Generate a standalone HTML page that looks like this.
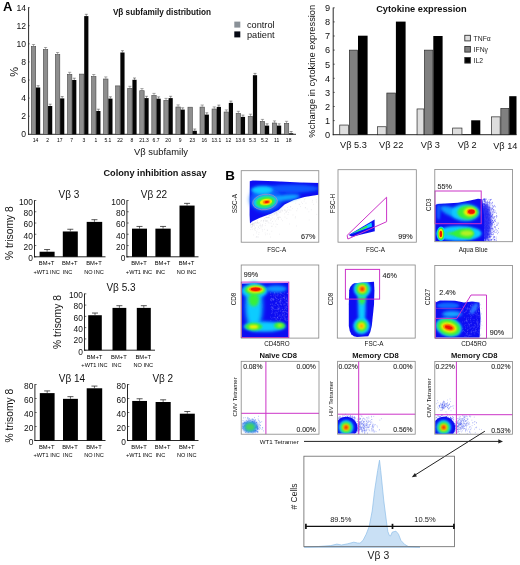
<!DOCTYPE html>
<html><head><meta charset="utf-8"><title>Figure</title>
<style>html,body{margin:0;padding:0;background:#fff;}svg{display:block;filter:blur(0.3px);}text{font-family:"Liberation Sans",sans-serif;}</style>
</head><body>
<svg width="520" height="565" viewBox="0 0 520 565">
<rect x="0" y="0" width="520" height="565" fill="#fff"/>
<defs>
<filter id="b05" x="-20%" y="-20%" width="140%" height="140%"><feGaussianBlur stdDeviation="0.5"/></filter>
<filter id="b1" x="-30%" y="-30%" width="160%" height="160%"><feGaussianBlur stdDeviation="1"/></filter>
<filter id="b15" x="-30%" y="-30%" width="160%" height="160%"><feGaussianBlur stdDeviation="1.5"/></filter>
<filter id="b2" x="-40%" y="-40%" width="180%" height="180%"><feGaussianBlur stdDeviation="2"/></filter>
<filter id="b3" x="-50%" y="-50%" width="200%" height="200%"><feGaussianBlur stdDeviation="3"/></filter>
<filter id="txt" x="-5%" y="-5%" width="110%" height="110%"><feGaussianBlur stdDeviation="0.3"/></filter>
</defs>
<g id="vb-dist">
<text x="2.9" y="10.6" font-size="13" text-anchor="start" font-weight="bold" fill="#000" >A</text>
<line x1="28.6" y1="7.2" x2="28.6" y2="134.8" stroke="#111" stroke-width="0.9" />
<line x1="28.200000000000003" y1="134.3" x2="296" y2="134.3" stroke="#111" stroke-width="0.9" />
<text x="26.0" y="137.20000000000002" font-size="8.6" text-anchor="end" font-weight="normal" fill="#111" >0</text>
<text x="26.0" y="119.10000000000002" font-size="8.6" text-anchor="end" font-weight="normal" fill="#111" >2</text>
<line x1="28.6" y1="116.20000000000002" x2="29.8" y2="116.20000000000002" stroke="#111" stroke-width="0.5" />
<text x="26.0" y="101.00000000000001" font-size="8.6" text-anchor="end" font-weight="normal" fill="#111" >4</text>
<line x1="28.6" y1="98.10000000000001" x2="29.8" y2="98.10000000000001" stroke="#111" stroke-width="0.5" />
<text x="26.0" y="82.9" font-size="8.6" text-anchor="end" font-weight="normal" fill="#111" >6</text>
<line x1="28.6" y1="80.0" x2="29.8" y2="80.0" stroke="#111" stroke-width="0.5" />
<text x="26.0" y="64.80000000000001" font-size="8.6" text-anchor="end" font-weight="normal" fill="#111" >8</text>
<line x1="28.6" y1="61.900000000000006" x2="29.8" y2="61.900000000000006" stroke="#111" stroke-width="0.5" />
<text x="26.0" y="46.70000000000001" font-size="8.6" text-anchor="end" font-weight="normal" fill="#111" >10</text>
<line x1="28.6" y1="43.80000000000001" x2="29.8" y2="43.80000000000001" stroke="#111" stroke-width="0.5" />
<text x="26.0" y="28.6" font-size="8.6" text-anchor="end" font-weight="normal" fill="#111" >12</text>
<line x1="28.6" y1="25.700000000000003" x2="29.8" y2="25.700000000000003" stroke="#111" stroke-width="0.5" />
<text x="26.0" y="10.499999999999995" font-size="8.6" text-anchor="end" font-weight="normal" fill="#111" >14</text>
<line x1="28.6" y1="7.599999999999994" x2="29.8" y2="7.599999999999994" stroke="#111" stroke-width="0.5" />
<text x="18" y="71.9" font-size="11" text-anchor="middle" font-weight="normal" fill="#111" transform="rotate(-90 18 71.9)" >%</text>
<rect x="31.30" y="46.60" width="4.40" height="87.70" fill="#8e8e8e" stroke="#484848" stroke-width="0.6" />
<rect x="36.00" y="87.50" width="4.20" height="46.80" fill="#050505" stroke="none" stroke-width="1" />
<line x1="33.5" y1="46.3" x2="33.5" y2="44.5" stroke="#555" stroke-width="0.5" />
<line x1="31.9" y1="44.5" x2="35.1" y2="44.5" stroke="#555" stroke-width="0.5" />
<line x1="38.1" y1="87.5" x2="38.1" y2="85.7" stroke="#333" stroke-width="0.5" />
<line x1="36.6" y1="85.7" x2="39.6" y2="85.7" stroke="#333" stroke-width="0.5" />
<text x="35.6" y="141.8" font-size="5.0" text-anchor="middle" font-weight="normal" fill="#000" >14</text>
<rect x="43.35" y="49.60" width="4.40" height="84.70" fill="#8e8e8e" stroke="#484848" stroke-width="0.6" />
<rect x="48.05" y="106.00" width="4.20" height="28.30" fill="#050505" stroke="none" stroke-width="1" />
<line x1="45.55" y1="49.3" x2="45.55" y2="47.5" stroke="#555" stroke-width="0.5" />
<line x1="43.949999999999996" y1="47.5" x2="47.15" y2="47.5" stroke="#555" stroke-width="0.5" />
<line x1="50.15" y1="106" x2="50.15" y2="104.2" stroke="#333" stroke-width="0.5" />
<line x1="48.65" y1="104.2" x2="51.65" y2="104.2" stroke="#333" stroke-width="0.5" />
<text x="47.65" y="141.8" font-size="5.0" text-anchor="middle" font-weight="normal" fill="#000" >2</text>
<rect x="55.40" y="54.60" width="4.40" height="79.70" fill="#8e8e8e" stroke="#484848" stroke-width="0.6" />
<rect x="60.10" y="98.40" width="4.20" height="35.90" fill="#050505" stroke="none" stroke-width="1" />
<line x1="57.6" y1="54.3" x2="57.6" y2="52.5" stroke="#555" stroke-width="0.5" />
<line x1="56.0" y1="52.5" x2="59.2" y2="52.5" stroke="#555" stroke-width="0.5" />
<line x1="62.2" y1="98.4" x2="62.2" y2="96.60000000000001" stroke="#333" stroke-width="0.5" />
<line x1="60.7" y1="96.60000000000001" x2="63.699999999999996" y2="96.60000000000001" stroke="#333" stroke-width="0.5" />
<text x="59.7" y="141.8" font-size="5.0" text-anchor="middle" font-weight="normal" fill="#000" >17</text>
<rect x="67.45" y="74.40" width="4.40" height="59.90" fill="#8e8e8e" stroke="#484848" stroke-width="0.6" />
<rect x="72.15" y="80.00" width="4.20" height="54.30" fill="#050505" stroke="none" stroke-width="1" />
<line x1="69.65" y1="74.1" x2="69.65" y2="72.3" stroke="#555" stroke-width="0.5" />
<line x1="68.05000000000001" y1="72.3" x2="71.25" y2="72.3" stroke="#555" stroke-width="0.5" />
<line x1="74.25" y1="80" x2="74.25" y2="78.2" stroke="#333" stroke-width="0.5" />
<line x1="72.75" y1="78.2" x2="75.75000000000001" y2="78.2" stroke="#333" stroke-width="0.5" />
<text x="71.75" y="141.8" font-size="5.0" text-anchor="middle" font-weight="normal" fill="#000" >7</text>
<rect x="79.50" y="74.10" width="4.40" height="60.20" fill="#8e8e8e" stroke="#484848" stroke-width="0.6" />
<rect x="84.20" y="16.10" width="4.20" height="118.20" fill="#050505" stroke="none" stroke-width="1" />
<line x1="86.3" y1="16.1" x2="86.3" y2="14.3" stroke="#333" stroke-width="0.5" />
<line x1="84.8" y1="14.3" x2="87.80000000000001" y2="14.3" stroke="#333" stroke-width="0.5" />
<text x="83.8" y="141.8" font-size="5.0" text-anchor="middle" font-weight="normal" fill="#000" >3</text>
<rect x="91.55" y="76.60" width="4.40" height="57.70" fill="#8e8e8e" stroke="#484848" stroke-width="0.6" />
<rect x="96.25" y="111.00" width="4.20" height="23.30" fill="#050505" stroke="none" stroke-width="1" />
<line x1="93.75" y1="76.3" x2="93.75" y2="74.5" stroke="#555" stroke-width="0.5" />
<line x1="92.15" y1="74.5" x2="95.35" y2="74.5" stroke="#555" stroke-width="0.5" />
<line x1="98.35" y1="111" x2="98.35" y2="109.2" stroke="#333" stroke-width="0.5" />
<line x1="96.85" y1="109.2" x2="99.85000000000001" y2="109.2" stroke="#333" stroke-width="0.5" />
<text x="95.85" y="141.8" font-size="5.0" text-anchor="middle" font-weight="normal" fill="#000" >1</text>
<rect x="103.60" y="79.00" width="4.40" height="55.30" fill="#8e8e8e" stroke="#484848" stroke-width="0.6" />
<rect x="108.30" y="98.60" width="4.20" height="35.70" fill="#050505" stroke="none" stroke-width="1" />
<line x1="105.80000000000001" y1="78.7" x2="105.80000000000001" y2="76.9" stroke="#555" stroke-width="0.5" />
<line x1="104.20000000000002" y1="76.9" x2="107.4" y2="76.9" stroke="#555" stroke-width="0.5" />
<line x1="110.4" y1="98.6" x2="110.4" y2="96.8" stroke="#333" stroke-width="0.5" />
<line x1="108.9" y1="96.8" x2="111.90000000000002" y2="96.8" stroke="#333" stroke-width="0.5" />
<text x="107.9" y="141.8" font-size="5.0" text-anchor="middle" font-weight="normal" fill="#000" >5.1</text>
<rect x="115.65" y="85.90" width="4.40" height="48.40" fill="#8e8e8e" stroke="#484848" stroke-width="0.6" />
<rect x="120.35" y="52.50" width="4.20" height="81.80" fill="#050505" stroke="none" stroke-width="1" />
<line x1="122.45" y1="52.5" x2="122.45" y2="50.7" stroke="#333" stroke-width="0.5" />
<line x1="120.95" y1="50.7" x2="123.95000000000002" y2="50.7" stroke="#333" stroke-width="0.5" />
<text x="119.95" y="141.8" font-size="5.0" text-anchor="middle" font-weight="normal" fill="#000" >22</text>
<rect x="127.70" y="88.40" width="4.40" height="45.90" fill="#8e8e8e" stroke="#484848" stroke-width="0.6" />
<rect x="132.40" y="79.80" width="4.20" height="54.50" fill="#050505" stroke="none" stroke-width="1" />
<line x1="129.9" y1="88.1" x2="129.9" y2="86.3" stroke="#555" stroke-width="0.5" />
<line x1="128.3" y1="86.3" x2="131.5" y2="86.3" stroke="#555" stroke-width="0.5" />
<line x1="134.5" y1="79.8" x2="134.5" y2="78.0" stroke="#333" stroke-width="0.5" />
<line x1="133.0" y1="78.0" x2="136.0" y2="78.0" stroke="#333" stroke-width="0.5" />
<text x="132.0" y="141.8" font-size="5.0" text-anchor="middle" font-weight="normal" fill="#000" >8</text>
<rect x="139.75" y="90.70" width="4.40" height="43.60" fill="#8e8e8e" stroke="#484848" stroke-width="0.6" />
<rect x="144.45" y="98.10" width="4.20" height="36.20" fill="#050505" stroke="none" stroke-width="1" />
<line x1="141.95" y1="90.4" x2="141.95" y2="88.60000000000001" stroke="#555" stroke-width="0.5" />
<line x1="140.35" y1="88.60000000000001" x2="143.54999999999998" y2="88.60000000000001" stroke="#555" stroke-width="0.5" />
<line x1="146.54999999999998" y1="98.1" x2="146.54999999999998" y2="96.3" stroke="#333" stroke-width="0.5" />
<line x1="145.04999999999998" y1="96.3" x2="148.04999999999998" y2="96.3" stroke="#333" stroke-width="0.5" />
<text x="144.04999999999998" y="141.8" font-size="5.0" text-anchor="middle" font-weight="normal" fill="#000" >21.3</text>
<rect x="151.80" y="95.50" width="4.40" height="38.80" fill="#8e8e8e" stroke="#484848" stroke-width="0.6" />
<rect x="156.50" y="98.70" width="4.20" height="35.60" fill="#050505" stroke="none" stroke-width="1" />
<line x1="154.0" y1="95.2" x2="154.0" y2="93.4" stroke="#555" stroke-width="0.5" />
<line x1="152.4" y1="93.4" x2="155.6" y2="93.4" stroke="#555" stroke-width="0.5" />
<line x1="158.6" y1="98.7" x2="158.6" y2="96.9" stroke="#333" stroke-width="0.5" />
<line x1="157.1" y1="96.9" x2="160.1" y2="96.9" stroke="#333" stroke-width="0.5" />
<text x="156.1" y="141.8" font-size="5.0" text-anchor="middle" font-weight="normal" fill="#000" >6.7</text>
<rect x="163.85" y="100.50" width="4.40" height="33.80" fill="#8e8e8e" stroke="#484848" stroke-width="0.6" />
<rect x="168.55" y="98.10" width="4.20" height="36.20" fill="#050505" stroke="none" stroke-width="1" />
<line x1="166.05" y1="100.2" x2="166.05" y2="98.4" stroke="#555" stroke-width="0.5" />
<line x1="164.45000000000002" y1="98.4" x2="167.65" y2="98.4" stroke="#555" stroke-width="0.5" />
<line x1="170.65" y1="98.1" x2="170.65" y2="96.3" stroke="#333" stroke-width="0.5" />
<line x1="169.15" y1="96.3" x2="172.15" y2="96.3" stroke="#333" stroke-width="0.5" />
<text x="168.15" y="141.8" font-size="5.0" text-anchor="middle" font-weight="normal" fill="#000" >20</text>
<rect x="175.90" y="107.00" width="4.40" height="27.30" fill="#8e8e8e" stroke="#484848" stroke-width="0.6" />
<rect x="180.60" y="109.60" width="4.20" height="24.70" fill="#050505" stroke="none" stroke-width="1" />
<line x1="178.10000000000002" y1="106.7" x2="178.10000000000002" y2="104.9" stroke="#555" stroke-width="0.5" />
<line x1="176.50000000000003" y1="104.9" x2="179.70000000000002" y2="104.9" stroke="#555" stroke-width="0.5" />
<line x1="182.70000000000002" y1="109.6" x2="182.70000000000002" y2="107.8" stroke="#333" stroke-width="0.5" />
<line x1="181.20000000000002" y1="107.8" x2="184.20000000000002" y2="107.8" stroke="#333" stroke-width="0.5" />
<text x="180.20000000000002" y="141.8" font-size="5.0" text-anchor="middle" font-weight="normal" fill="#000" >9</text>
<rect x="187.95" y="107.20" width="4.40" height="27.10" fill="#8e8e8e" stroke="#484848" stroke-width="0.6" />
<rect x="192.65" y="130.80" width="4.20" height="3.50" fill="#050505" stroke="none" stroke-width="1" />
<line x1="194.75" y1="130.8" x2="194.75" y2="129.0" stroke="#333" stroke-width="0.5" />
<line x1="193.25" y1="129.0" x2="196.25" y2="129.0" stroke="#333" stroke-width="0.5" />
<text x="192.25" y="141.8" font-size="5.0" text-anchor="middle" font-weight="normal" fill="#000" >23</text>
<rect x="200.00" y="107.10" width="4.40" height="27.20" fill="#8e8e8e" stroke="#484848" stroke-width="0.6" />
<rect x="204.70" y="114.60" width="4.20" height="19.70" fill="#050505" stroke="none" stroke-width="1" />
<line x1="202.20000000000002" y1="106.8" x2="202.20000000000002" y2="105.0" stroke="#555" stroke-width="0.5" />
<line x1="200.60000000000002" y1="105.0" x2="203.8" y2="105.0" stroke="#555" stroke-width="0.5" />
<line x1="206.8" y1="114.6" x2="206.8" y2="112.8" stroke="#333" stroke-width="0.5" />
<line x1="205.3" y1="112.8" x2="208.3" y2="112.8" stroke="#333" stroke-width="0.5" />
<text x="204.3" y="141.8" font-size="5.0" text-anchor="middle" font-weight="normal" fill="#000" >16</text>
<rect x="212.05" y="109.00" width="4.40" height="25.30" fill="#8e8e8e" stroke="#484848" stroke-width="0.6" />
<rect x="216.75" y="106.90" width="4.20" height="27.40" fill="#050505" stroke="none" stroke-width="1" />
<line x1="214.25" y1="108.7" x2="214.25" y2="106.9" stroke="#555" stroke-width="0.5" />
<line x1="212.65" y1="106.9" x2="215.85" y2="106.9" stroke="#555" stroke-width="0.5" />
<line x1="218.85" y1="106.9" x2="218.85" y2="105.10000000000001" stroke="#333" stroke-width="0.5" />
<line x1="217.35" y1="105.10000000000001" x2="220.35" y2="105.10000000000001" stroke="#333" stroke-width="0.5" />
<text x="216.35" y="141.8" font-size="5.0" text-anchor="middle" font-weight="normal" fill="#000" >13.1</text>
<rect x="224.10" y="112.00" width="4.40" height="22.30" fill="#8e8e8e" stroke="#484848" stroke-width="0.6" />
<rect x="228.80" y="102.90" width="4.20" height="31.40" fill="#050505" stroke="none" stroke-width="1" />
<line x1="226.3" y1="111.7" x2="226.3" y2="109.9" stroke="#555" stroke-width="0.5" />
<line x1="224.70000000000002" y1="109.9" x2="227.9" y2="109.9" stroke="#555" stroke-width="0.5" />
<line x1="230.9" y1="102.9" x2="230.9" y2="101.10000000000001" stroke="#333" stroke-width="0.5" />
<line x1="229.4" y1="101.10000000000001" x2="232.4" y2="101.10000000000001" stroke="#333" stroke-width="0.5" />
<text x="228.4" y="141.8" font-size="5.0" text-anchor="middle" font-weight="normal" fill="#000" >12</text>
<rect x="236.15" y="113.40" width="4.40" height="20.90" fill="#8e8e8e" stroke="#484848" stroke-width="0.6" />
<rect x="240.85" y="116.90" width="4.20" height="17.40" fill="#050505" stroke="none" stroke-width="1" />
<line x1="238.35000000000002" y1="113.1" x2="238.35000000000002" y2="111.3" stroke="#555" stroke-width="0.5" />
<line x1="236.75000000000003" y1="111.3" x2="239.95000000000002" y2="111.3" stroke="#555" stroke-width="0.5" />
<line x1="242.95000000000002" y1="116.9" x2="242.95000000000002" y2="115.10000000000001" stroke="#333" stroke-width="0.5" />
<line x1="241.45000000000002" y1="115.10000000000001" x2="244.45000000000002" y2="115.10000000000001" stroke="#333" stroke-width="0.5" />
<text x="240.45000000000002" y="141.8" font-size="5.0" text-anchor="middle" font-weight="normal" fill="#000" >13.6</text>
<rect x="248.20" y="116.30" width="4.40" height="18.00" fill="#8e8e8e" stroke="#484848" stroke-width="0.6" />
<rect x="252.90" y="75.20" width="4.20" height="59.10" fill="#050505" stroke="none" stroke-width="1" />
<line x1="250.4" y1="116" x2="250.4" y2="114.2" stroke="#555" stroke-width="0.5" />
<line x1="248.8" y1="114.2" x2="252.0" y2="114.2" stroke="#555" stroke-width="0.5" />
<line x1="255.0" y1="75.2" x2="255.0" y2="73.4" stroke="#333" stroke-width="0.5" />
<line x1="253.5" y1="73.4" x2="256.5" y2="73.4" stroke="#333" stroke-width="0.5" />
<text x="252.5" y="141.8" font-size="5.0" text-anchor="middle" font-weight="normal" fill="#000" >5.3</text>
<rect x="260.25" y="121.50" width="4.40" height="12.80" fill="#8e8e8e" stroke="#484848" stroke-width="0.6" />
<rect x="264.95" y="125.60" width="4.20" height="8.70" fill="#050505" stroke="none" stroke-width="1" />
<line x1="262.45000000000005" y1="121.2" x2="262.45000000000005" y2="119.4" stroke="#555" stroke-width="0.5" />
<line x1="260.85" y1="119.4" x2="264.05000000000007" y2="119.4" stroke="#555" stroke-width="0.5" />
<line x1="267.05000000000007" y1="125.6" x2="267.05000000000007" y2="123.8" stroke="#333" stroke-width="0.5" />
<line x1="265.55000000000007" y1="123.8" x2="268.55" y2="123.8" stroke="#333" stroke-width="0.5" />
<text x="264.55000000000007" y="141.8" font-size="5.0" text-anchor="middle" font-weight="normal" fill="#000" >5.2</text>
<rect x="272.30" y="123.00" width="4.40" height="11.30" fill="#8e8e8e" stroke="#484848" stroke-width="0.6" />
<rect x="277.00" y="125.60" width="4.20" height="8.70" fill="#050505" stroke="none" stroke-width="1" />
<line x1="274.5" y1="122.7" x2="274.5" y2="120.9" stroke="#555" stroke-width="0.5" />
<line x1="272.9" y1="120.9" x2="276.1" y2="120.9" stroke="#555" stroke-width="0.5" />
<line x1="279.1" y1="125.6" x2="279.1" y2="123.8" stroke="#333" stroke-width="0.5" />
<line x1="277.6" y1="123.8" x2="280.59999999999997" y2="123.8" stroke="#333" stroke-width="0.5" />
<text x="276.6" y="141.8" font-size="5.0" text-anchor="middle" font-weight="normal" fill="#000" >11</text>
<rect x="284.35" y="123.40" width="4.40" height="10.90" fill="#8e8e8e" stroke="#484848" stroke-width="0.6" />
<rect x="289.05" y="133.30" width="4.20" height="1.00" fill="#050505" stroke="none" stroke-width="1" />
<line x1="286.55" y1="123.1" x2="286.55" y2="121.3" stroke="#555" stroke-width="0.5" />
<line x1="284.95" y1="121.3" x2="288.15000000000003" y2="121.3" stroke="#555" stroke-width="0.5" />
<line x1="291.15000000000003" y1="133.3" x2="291.15000000000003" y2="131.5" stroke="#333" stroke-width="0.5" />
<line x1="289.65000000000003" y1="131.5" x2="292.65" y2="131.5" stroke="#333" stroke-width="0.5" />
<text x="288.65000000000003" y="141.8" font-size="5.0" text-anchor="middle" font-weight="normal" fill="#000" >18</text>
<text x="162" y="15.0" font-size="8.2" text-anchor="middle" font-weight="bold" fill="#111" >Vβ subfamily distribution</text>
<text x="161" y="155.2" font-size="9.4" text-anchor="middle" font-weight="normal" fill="#111" >Vβ subfamily</text>
<rect x="234.30" y="21.60" width="6.00" height="6.00" fill="#8a9198" stroke="none" stroke-width="1" />
<rect x="234.30" y="31.40" width="6.00" height="6.00" fill="#060a14" stroke="none" stroke-width="1" />
<text x="247" y="28.2" font-size="9.2" text-anchor="start" font-weight="normal" fill="#111" >control</text>
<text x="247" y="37.6" font-size="9.2" text-anchor="start" font-weight="normal" fill="#111" >patient</text>
</g>
<g id="cyto">
<line x1="333.2" y1="7.6" x2="333.2" y2="135.2" stroke="#111" stroke-width="0.9" />
<line x1="332.8" y1="134.7" x2="516.6" y2="134.7" stroke="#111" stroke-width="0.9" />
<text x="330.2" y="138.0" font-size="9.2" text-anchor="end" font-weight="normal" fill="#111" >0</text>
<text x="330.2" y="123.89999999999999" font-size="9.2" text-anchor="end" font-weight="normal" fill="#111" >1</text>
<line x1="333.2" y1="120.6" x2="334.8" y2="120.6" stroke="#111" stroke-width="0.6" />
<text x="330.2" y="109.79999999999998" font-size="9.2" text-anchor="end" font-weight="normal" fill="#111" >2</text>
<line x1="333.2" y1="106.49999999999999" x2="334.8" y2="106.49999999999999" stroke="#111" stroke-width="0.6" />
<text x="330.2" y="95.69999999999999" font-size="9.2" text-anchor="end" font-weight="normal" fill="#111" >3</text>
<line x1="333.2" y1="92.39999999999999" x2="334.8" y2="92.39999999999999" stroke="#111" stroke-width="0.6" />
<text x="330.2" y="81.59999999999998" font-size="9.2" text-anchor="end" font-weight="normal" fill="#111" >4</text>
<line x1="333.2" y1="78.29999999999998" x2="334.8" y2="78.29999999999998" stroke="#111" stroke-width="0.6" />
<text x="330.2" y="67.49999999999999" font-size="9.2" text-anchor="end" font-weight="normal" fill="#111" >5</text>
<line x1="333.2" y1="64.19999999999999" x2="334.8" y2="64.19999999999999" stroke="#111" stroke-width="0.6" />
<text x="330.2" y="53.39999999999999" font-size="9.2" text-anchor="end" font-weight="normal" fill="#111" >6</text>
<line x1="333.2" y1="50.099999999999994" x2="334.8" y2="50.099999999999994" stroke="#111" stroke-width="0.6" />
<text x="330.2" y="39.29999999999998" font-size="9.2" text-anchor="end" font-weight="normal" fill="#111" >7</text>
<line x1="333.2" y1="35.999999999999986" x2="334.8" y2="35.999999999999986" stroke="#111" stroke-width="0.6" />
<text x="330.2" y="25.199999999999992" font-size="9.2" text-anchor="end" font-weight="normal" fill="#111" >8</text>
<line x1="333.2" y1="21.89999999999999" x2="334.8" y2="21.89999999999999" stroke="#111" stroke-width="0.6" />
<text x="330.2" y="11.099999999999998" font-size="9.2" text-anchor="end" font-weight="normal" fill="#111" >9</text>
<line x1="333.2" y1="7.799999999999997" x2="334.8" y2="7.799999999999997" stroke="#111" stroke-width="0.6" />
<text x="315.3" y="71.2" font-size="9.3" text-anchor="middle" font-weight="normal" fill="#111" transform="rotate(-90 315.3 71.2)" >%change in cytokine expression</text>
<text x="421.4" y="12.2" font-size="9.25" text-anchor="middle" font-weight="bold" fill="#111" >Cytokine expression</text>
<rect x="339.75" y="125.05" width="8.90" height="9.65" fill="#dedede" stroke="#2a2a2a" stroke-width="0.7" />
<rect x="349.35" y="50.15" width="8.30" height="84.55" fill="#808080" stroke="#2a2a2a" stroke-width="0.7" />
<rect x="358.00" y="35.70" width="9.60" height="99.00" fill="#000" stroke="none" stroke-width="1" />
<text x="353.4" y="148.2" font-size="9.2" text-anchor="middle" font-weight="normal" fill="#111" >Vβ 5.3</text>
<rect x="377.45" y="126.75" width="8.70" height="7.95" fill="#dedede" stroke="#2a2a2a" stroke-width="0.7" />
<rect x="386.85" y="93.05" width="8.70" height="41.65" fill="#808080" stroke="#2a2a2a" stroke-width="0.7" />
<rect x="395.90" y="21.60" width="9.70" height="113.10" fill="#000" stroke="none" stroke-width="1" />
<text x="391.2" y="148.2" font-size="9.2" text-anchor="middle" font-weight="normal" fill="#111" >Vβ 22</text>
<rect x="417.05" y="108.95" width="6.80" height="25.75" fill="#dedede" stroke="#2a2a2a" stroke-width="0.7" />
<rect x="424.55" y="50.15" width="8.40" height="84.55" fill="#808080" stroke="#2a2a2a" stroke-width="0.7" />
<rect x="433.30" y="36.00" width="9.30" height="98.70" fill="#000" stroke="none" stroke-width="1" />
<text x="430.4" y="148.2" font-size="9.2" text-anchor="middle" font-weight="normal" fill="#111" >Vβ 3</text>
<rect x="452.65" y="128.05" width="9.30" height="6.65" fill="#dedede" stroke="#2a2a2a" stroke-width="0.7" />
<rect x="462.65" y="134.35" width="8.20" height="0.35" fill="#808080" stroke="#2a2a2a" stroke-width="0.7" />
<rect x="471.20" y="120.30" width="9.10" height="14.40" fill="#000" stroke="none" stroke-width="1" />
<text x="467.2" y="147.9" font-size="9.2" text-anchor="middle" font-weight="normal" fill="#111" >Vβ 2</text>
<rect x="491.55" y="116.85" width="8.60" height="17.85" fill="#dedede" stroke="#2a2a2a" stroke-width="0.7" />
<rect x="500.85" y="108.55" width="8.00" height="26.15" fill="#808080" stroke="#2a2a2a" stroke-width="0.7" />
<rect x="509.20" y="96.20" width="7.30" height="38.50" fill="#000" stroke="none" stroke-width="1" />
<text x="505.3" y="149.1" font-size="9.2" text-anchor="middle" font-weight="normal" fill="#111" >Vβ 14</text>
<rect x="464.80" y="35.30" width="5.60" height="5.60" fill="#dedede" stroke="#333" stroke-width="0.9" />
<text x="473.6" y="40.5" font-size="6.8" text-anchor="start" font-weight="normal" fill="#222" >TNFα</text>
<rect x="464.80" y="46.50" width="5.60" height="5.60" fill="#808080" stroke="#333" stroke-width="0.9" />
<text x="473.6" y="51.699999999999996" font-size="6.8" text-anchor="start" font-weight="normal" fill="#222" >IFNγ</text>
<rect x="464.80" y="57.50" width="5.60" height="5.60" fill="#000" stroke="#333" stroke-width="0.9" />
<text x="473.6" y="62.699999999999996" font-size="6.8" text-anchor="start" font-weight="normal" fill="#222" >IL2</text>
</g>
<g id="colony">
<text x="155" y="176.2" font-size="9.2" text-anchor="middle" font-weight="bold" fill="#111" >Colony inhibition assay</text>
<line x1="34.5" y1="200.2" x2="34.5" y2="257.3" stroke="#111" stroke-width="0.9" />
<line x1="34.1" y1="256.8" x2="105.5" y2="256.8" stroke="#111" stroke-width="0.9" />
<line x1="34.5" y1="256.8" x2="36.3" y2="256.8" stroke="#111" stroke-width="0.6" />
<text x="32.9" y="261.1" font-size="8.4" text-anchor="end" font-weight="normal" fill="#111" >0</text>
<line x1="34.5" y1="245.54000000000002" x2="36.3" y2="245.54000000000002" stroke="#111" stroke-width="0.6" />
<text x="32.9" y="249.84000000000003" font-size="8.4" text-anchor="end" font-weight="normal" fill="#111" >20</text>
<line x1="34.5" y1="234.28" x2="36.3" y2="234.28" stroke="#111" stroke-width="0.6" />
<text x="32.9" y="238.58" font-size="8.4" text-anchor="end" font-weight="normal" fill="#111" >40</text>
<line x1="34.5" y1="223.02" x2="36.3" y2="223.02" stroke="#111" stroke-width="0.6" />
<text x="32.9" y="227.32000000000002" font-size="8.4" text-anchor="end" font-weight="normal" fill="#111" >60</text>
<line x1="34.5" y1="211.76" x2="36.3" y2="211.76" stroke="#111" stroke-width="0.6" />
<text x="32.9" y="216.06" font-size="8.4" text-anchor="end" font-weight="normal" fill="#111" >80</text>
<line x1="34.5" y1="200.5" x2="36.3" y2="200.5" stroke="#111" stroke-width="0.6" />
<text x="32.9" y="204.8" font-size="8.4" text-anchor="end" font-weight="normal" fill="#111" >100</text>
<text x="69" y="197.9" font-size="10" text-anchor="middle" font-weight="normal" fill="#111" >Vβ 3</text>
<rect x="39.60" y="251.73" width="15.00" height="5.07" fill="#000" stroke="none" stroke-width="1" />
<line x1="47.1" y1="251.733" x2="47.1" y2="249.53300000000002" stroke="#111" stroke-width="0.6" />
<line x1="44.1" y1="249.53300000000002" x2="50.1" y2="249.53300000000002" stroke="#111" stroke-width="0.7" />
<rect x="62.80" y="231.47" width="15.00" height="25.34" fill="#000" stroke="none" stroke-width="1" />
<line x1="70.3" y1="231.465" x2="70.3" y2="229.26500000000001" stroke="#111" stroke-width="0.6" />
<line x1="67.3" y1="229.26500000000001" x2="73.3" y2="229.26500000000001" stroke="#111" stroke-width="0.7" />
<rect x="86.70" y="221.89" width="15.50" height="34.91" fill="#000" stroke="none" stroke-width="1" />
<line x1="94.45" y1="221.894" x2="94.45" y2="219.69400000000002" stroke="#111" stroke-width="0.6" />
<line x1="91.45" y1="219.69400000000002" x2="97.45" y2="219.69400000000002" stroke="#111" stroke-width="0.7" />
<text x="46.6" y="265.2" font-size="5.8" text-anchor="middle" font-weight="normal" fill="#000" >BM+T</text>
<text x="46.6" y="273.7" font-size="5.6" text-anchor="middle" font-weight="normal" fill="#000" >+WT1 INC</text>
<text x="69.8" y="265.2" font-size="5.8" text-anchor="middle" font-weight="normal" fill="#000" >BM+T</text>
<text x="62.699999999999996" y="273.7" font-size="5.6" text-anchor="start" font-weight="normal" fill="#000" >INC</text>
<text x="93.95" y="265.2" font-size="5.8" text-anchor="middle" font-weight="normal" fill="#000" >BM+T</text>
<text x="93.95" y="273.7" font-size="5.6" text-anchor="middle" font-weight="normal" fill="#000" >NO INC</text>
<text x="13.2" y="233.15" font-size="10.3" text-anchor="middle" font-weight="normal" fill="#111" transform="rotate(-90 13.2 233.15)" >% trisomy 8</text>
<line x1="126.9" y1="200.2" x2="126.9" y2="257.3" stroke="#111" stroke-width="0.9" />
<line x1="126.5" y1="256.8" x2="198.5" y2="256.8" stroke="#111" stroke-width="0.9" />
<line x1="126.9" y1="256.8" x2="128.70000000000002" y2="256.8" stroke="#111" stroke-width="0.6" />
<text x="125.30000000000001" y="261.1" font-size="8.4" text-anchor="end" font-weight="normal" fill="#111" >0</text>
<line x1="126.9" y1="245.54000000000002" x2="128.70000000000002" y2="245.54000000000002" stroke="#111" stroke-width="0.6" />
<text x="125.30000000000001" y="249.84000000000003" font-size="8.4" text-anchor="end" font-weight="normal" fill="#111" >20</text>
<line x1="126.9" y1="234.28" x2="128.70000000000002" y2="234.28" stroke="#111" stroke-width="0.6" />
<text x="125.30000000000001" y="238.58" font-size="8.4" text-anchor="end" font-weight="normal" fill="#111" >40</text>
<line x1="126.9" y1="223.02" x2="128.70000000000002" y2="223.02" stroke="#111" stroke-width="0.6" />
<text x="125.30000000000001" y="227.32000000000002" font-size="8.4" text-anchor="end" font-weight="normal" fill="#111" >60</text>
<line x1="126.9" y1="211.76" x2="128.70000000000002" y2="211.76" stroke="#111" stroke-width="0.6" />
<text x="125.30000000000001" y="216.06" font-size="8.4" text-anchor="end" font-weight="normal" fill="#111" >80</text>
<line x1="126.9" y1="200.5" x2="128.70000000000002" y2="200.5" stroke="#111" stroke-width="0.6" />
<text x="125.30000000000001" y="204.8" font-size="8.4" text-anchor="end" font-weight="normal" fill="#111" >100</text>
<text x="154" y="197.9" font-size="10" text-anchor="middle" font-weight="normal" fill="#111" >Vβ 22</text>
<rect x="132.00" y="228.65" width="15.00" height="28.15" fill="#000" stroke="none" stroke-width="1" />
<line x1="139.5" y1="228.65" x2="139.5" y2="226.45000000000002" stroke="#111" stroke-width="0.6" />
<line x1="136.5" y1="226.45000000000002" x2="142.5" y2="226.45000000000002" stroke="#111" stroke-width="0.7" />
<rect x="155.40" y="228.65" width="15.30" height="28.15" fill="#000" stroke="none" stroke-width="1" />
<line x1="163.05" y1="228.65" x2="163.05" y2="226.45000000000002" stroke="#111" stroke-width="0.6" />
<line x1="160.05" y1="226.45000000000002" x2="166.05" y2="226.45000000000002" stroke="#111" stroke-width="0.7" />
<rect x="179.50" y="205.57" width="15.10" height="51.23" fill="#000" stroke="none" stroke-width="1" />
<line x1="187.05" y1="205.567" x2="187.05" y2="203.36700000000002" stroke="#111" stroke-width="0.6" />
<line x1="184.05" y1="203.36700000000002" x2="190.05" y2="203.36700000000002" stroke="#111" stroke-width="0.7" />
<text x="139.0" y="265.2" font-size="5.8" text-anchor="middle" font-weight="normal" fill="#000" >BM+T</text>
<text x="139.0" y="273.7" font-size="5.6" text-anchor="middle" font-weight="normal" fill="#000" >+WT1 INC</text>
<text x="162.55" y="265.2" font-size="5.8" text-anchor="middle" font-weight="normal" fill="#000" >BM+T</text>
<text x="155.45000000000002" y="273.7" font-size="5.6" text-anchor="start" font-weight="normal" fill="#000" >INC</text>
<text x="186.55" y="265.2" font-size="5.8" text-anchor="middle" font-weight="normal" fill="#000" >BM+T</text>
<text x="186.55" y="273.7" font-size="5.6" text-anchor="middle" font-weight="normal" fill="#000" >NO INC</text>
<line x1="84.5" y1="293.5" x2="84.5" y2="350.7" stroke="#111" stroke-width="0.9" />
<line x1="84.1" y1="350.2" x2="155" y2="350.2" stroke="#111" stroke-width="0.9" />
<line x1="84.5" y1="350.2" x2="86.3" y2="350.2" stroke="#111" stroke-width="0.6" />
<text x="82.9" y="354.5" font-size="8.4" text-anchor="end" font-weight="normal" fill="#111" >0</text>
<line x1="84.5" y1="338.92" x2="86.3" y2="338.92" stroke="#111" stroke-width="0.6" />
<text x="82.9" y="343.22" font-size="8.4" text-anchor="end" font-weight="normal" fill="#111" >20</text>
<line x1="84.5" y1="327.64" x2="86.3" y2="327.64" stroke="#111" stroke-width="0.6" />
<text x="82.9" y="331.94" font-size="8.4" text-anchor="end" font-weight="normal" fill="#111" >40</text>
<line x1="84.5" y1="316.36" x2="86.3" y2="316.36" stroke="#111" stroke-width="0.6" />
<text x="82.9" y="320.66" font-size="8.4" text-anchor="end" font-weight="normal" fill="#111" >60</text>
<line x1="84.5" y1="305.08000000000004" x2="86.3" y2="305.08000000000004" stroke="#111" stroke-width="0.6" />
<text x="82.9" y="309.38000000000005" font-size="8.4" text-anchor="end" font-weight="normal" fill="#111" >80</text>
<line x1="84.5" y1="293.8" x2="86.3" y2="293.8" stroke="#111" stroke-width="0.6" />
<text x="82.9" y="298.1" font-size="8.4" text-anchor="end" font-weight="normal" fill="#111" >100</text>
<text x="121" y="291.2" font-size="10" text-anchor="middle" font-weight="normal" fill="#111" >Vβ 5.3</text>
<rect x="88.20" y="315.23" width="13.60" height="34.97" fill="#000" stroke="none" stroke-width="1" />
<line x1="95.0" y1="315.232" x2="95.0" y2="313.03200000000004" stroke="#111" stroke-width="0.6" />
<line x1="92.0" y1="313.03200000000004" x2="98.0" y2="313.03200000000004" stroke="#111" stroke-width="0.7" />
<rect x="112.50" y="307.90" width="13.80" height="42.30" fill="#000" stroke="none" stroke-width="1" />
<line x1="119.4" y1="307.90000000000003" x2="119.4" y2="305.70000000000005" stroke="#111" stroke-width="0.6" />
<line x1="116.4" y1="305.70000000000005" x2="122.4" y2="305.70000000000005" stroke="#111" stroke-width="0.7" />
<rect x="136.80" y="307.90" width="14.00" height="42.30" fill="#000" stroke="none" stroke-width="1" />
<line x1="143.8" y1="307.90000000000003" x2="143.8" y2="305.70000000000005" stroke="#111" stroke-width="0.6" />
<line x1="140.8" y1="305.70000000000005" x2="146.8" y2="305.70000000000005" stroke="#111" stroke-width="0.7" />
<text x="94.5" y="358.59999999999997" font-size="5.8" text-anchor="middle" font-weight="normal" fill="#000" >BM+T</text>
<text x="94.5" y="367.09999999999997" font-size="5.6" text-anchor="middle" font-weight="normal" fill="#000" >+WT1 INC</text>
<text x="118.9" y="358.59999999999997" font-size="5.8" text-anchor="middle" font-weight="normal" fill="#000" >BM+T</text>
<text x="111.80000000000001" y="367.09999999999997" font-size="5.6" text-anchor="start" font-weight="normal" fill="#000" >INC</text>
<text x="143.3" y="358.59999999999997" font-size="5.8" text-anchor="middle" font-weight="normal" fill="#000" >BM+T</text>
<text x="143.3" y="367.09999999999997" font-size="5.6" text-anchor="middle" font-weight="normal" fill="#000" >NO INC</text>
<text x="61.3" y="322.0" font-size="10.3" text-anchor="middle" font-weight="normal" fill="#111" transform="rotate(-90 61.3 322.0)" >% trisomy 8</text>
<line x1="34.9" y1="384.2" x2="34.9" y2="441.0" stroke="#111" stroke-width="0.9" />
<line x1="34.5" y1="440.5" x2="105.5" y2="440.5" stroke="#111" stroke-width="0.9" />
<line x1="34.9" y1="440.5" x2="36.699999999999996" y2="440.5" stroke="#111" stroke-width="0.6" />
<text x="33.3" y="444.8" font-size="8.4" text-anchor="end" font-weight="normal" fill="#111" >0</text>
<line x1="34.9" y1="426.5" x2="36.699999999999996" y2="426.5" stroke="#111" stroke-width="0.6" />
<text x="33.3" y="430.8" font-size="8.4" text-anchor="end" font-weight="normal" fill="#111" >20</text>
<line x1="34.9" y1="412.5" x2="36.699999999999996" y2="412.5" stroke="#111" stroke-width="0.6" />
<text x="33.3" y="416.8" font-size="8.4" text-anchor="end" font-weight="normal" fill="#111" >40</text>
<line x1="34.9" y1="398.5" x2="36.699999999999996" y2="398.5" stroke="#111" stroke-width="0.6" />
<text x="33.3" y="402.8" font-size="8.4" text-anchor="end" font-weight="normal" fill="#111" >60</text>
<line x1="34.9" y1="384.5" x2="36.699999999999996" y2="384.5" stroke="#111" stroke-width="0.6" />
<text x="33.3" y="388.8" font-size="8.4" text-anchor="end" font-weight="normal" fill="#111" >80</text>
<text x="72" y="381.9" font-size="10" text-anchor="middle" font-weight="normal" fill="#111" >Vβ 14</text>
<rect x="39.80" y="393.11" width="14.80" height="47.39" fill="#000" stroke="none" stroke-width="1" />
<line x1="47.2" y1="393.11" x2="47.2" y2="390.91" stroke="#111" stroke-width="0.6" />
<line x1="44.2" y1="390.91" x2="50.2" y2="390.91" stroke="#111" stroke-width="0.7" />
<rect x="63.00" y="398.85" width="14.90" height="41.65" fill="#000" stroke="none" stroke-width="1" />
<line x1="70.45" y1="398.85" x2="70.45" y2="396.65000000000003" stroke="#111" stroke-width="0.6" />
<line x1="67.45" y1="396.65000000000003" x2="73.45" y2="396.65000000000003" stroke="#111" stroke-width="0.7" />
<rect x="86.70" y="388.28" width="15.50" height="52.22" fill="#000" stroke="none" stroke-width="1" />
<line x1="94.45" y1="388.28000000000003" x2="94.45" y2="386.08000000000004" stroke="#111" stroke-width="0.6" />
<line x1="91.45" y1="386.08000000000004" x2="97.45" y2="386.08000000000004" stroke="#111" stroke-width="0.7" />
<text x="46.7" y="448.9" font-size="5.8" text-anchor="middle" font-weight="normal" fill="#000" >BM+T</text>
<text x="46.7" y="457.4" font-size="5.6" text-anchor="middle" font-weight="normal" fill="#000" >+WT1 INC</text>
<text x="69.95" y="448.9" font-size="5.8" text-anchor="middle" font-weight="normal" fill="#000" >BM+T</text>
<text x="62.85" y="457.4" font-size="5.6" text-anchor="start" font-weight="normal" fill="#000" >INC</text>
<text x="93.95" y="448.9" font-size="5.8" text-anchor="middle" font-weight="normal" fill="#000" >BM+T</text>
<text x="93.95" y="457.4" font-size="5.6" text-anchor="middle" font-weight="normal" fill="#000" >NO INC</text>
<text x="13.2" y="415.7" font-size="10.3" text-anchor="middle" font-weight="normal" fill="#111" transform="rotate(-90 13.2 415.7)" >% trisomy 8</text>
<line x1="127.5" y1="384.2" x2="127.5" y2="441.0" stroke="#111" stroke-width="0.9" />
<line x1="127.1" y1="440.5" x2="198.5" y2="440.5" stroke="#111" stroke-width="0.9" />
<line x1="127.5" y1="440.5" x2="129.3" y2="440.5" stroke="#111" stroke-width="0.6" />
<text x="125.9" y="444.8" font-size="8.4" text-anchor="end" font-weight="normal" fill="#111" >0</text>
<line x1="127.5" y1="426.5" x2="129.3" y2="426.5" stroke="#111" stroke-width="0.6" />
<text x="125.9" y="430.8" font-size="8.4" text-anchor="end" font-weight="normal" fill="#111" >20</text>
<line x1="127.5" y1="412.5" x2="129.3" y2="412.5" stroke="#111" stroke-width="0.6" />
<text x="125.9" y="416.8" font-size="8.4" text-anchor="end" font-weight="normal" fill="#111" >40</text>
<line x1="127.5" y1="398.5" x2="129.3" y2="398.5" stroke="#111" stroke-width="0.6" />
<text x="125.9" y="402.8" font-size="8.4" text-anchor="end" font-weight="normal" fill="#111" >60</text>
<line x1="127.5" y1="384.5" x2="129.3" y2="384.5" stroke="#111" stroke-width="0.6" />
<text x="125.9" y="388.8" font-size="8.4" text-anchor="end" font-weight="normal" fill="#111" >80</text>
<text x="162.8" y="381.9" font-size="10" text-anchor="middle" font-weight="normal" fill="#111" >Vβ 2</text>
<rect x="132.20" y="400.95" width="14.80" height="39.55" fill="#000" stroke="none" stroke-width="1" />
<line x1="139.6" y1="400.95" x2="139.6" y2="398.75" stroke="#111" stroke-width="0.6" />
<line x1="136.6" y1="398.75" x2="142.6" y2="398.75" stroke="#111" stroke-width="0.7" />
<rect x="155.60" y="402.00" width="15.10" height="38.50" fill="#000" stroke="none" stroke-width="1" />
<line x1="163.14999999999998" y1="402.0" x2="163.14999999999998" y2="399.8" stroke="#111" stroke-width="0.6" />
<line x1="160.14999999999998" y1="399.8" x2="166.14999999999998" y2="399.8" stroke="#111" stroke-width="0.7" />
<rect x="179.80" y="413.69" width="15.00" height="26.81" fill="#000" stroke="none" stroke-width="1" />
<line x1="187.3" y1="413.69" x2="187.3" y2="411.49" stroke="#111" stroke-width="0.6" />
<line x1="184.3" y1="411.49" x2="190.3" y2="411.49" stroke="#111" stroke-width="0.7" />
<text x="139.1" y="448.9" font-size="5.8" text-anchor="middle" font-weight="normal" fill="#000" >BM+T</text>
<text x="139.1" y="457.4" font-size="5.6" text-anchor="middle" font-weight="normal" fill="#000" >+WT1 INC</text>
<text x="162.64999999999998" y="448.9" font-size="5.8" text-anchor="middle" font-weight="normal" fill="#000" >BM+T</text>
<text x="155.54999999999998" y="457.4" font-size="5.6" text-anchor="start" font-weight="normal" fill="#000" >INC</text>
<text x="186.8" y="448.9" font-size="5.8" text-anchor="middle" font-weight="normal" fill="#000" >BM+T</text>
<text x="186.8" y="457.4" font-size="5.6" text-anchor="middle" font-weight="normal" fill="#000" >NO INC</text>
</g>
<g id="flow">
<text x="225.2" y="179.9" font-size="13.4" text-anchor="start" font-weight="bold" fill="#000" >B</text>
<g>
<clipPath id="c1"><rect x="241.6" y="171.1" width="76.8" height="70.7"/></clipPath>
<g clip-path="url(#c1)">
<path d="M286.4 211.4h.6M257.0 222.6h.6M265.4 217.7h.6M273.8 219.0h.6M266.4 220.6h.6M250.3 229.6h.6M285.1 210.2h.6M271.7 226.3h.6M287.7 214.5h.6M252.7 228.7h.6M253.9 224.9h.6M251.0 226.8h.6M269.9 215.3h.6M300.1 206.6h.6M271.5 231.3h.6M274.5 214.0h.6M253.3 234.9h.6M282.1 210.4h.6M282.2 220.7h.6M281.1 219.2h.6M265.2 221.2h.6M316.2 202.0h.6M252.2 223.9h.6M257.2 221.0h.6M299.5 204.6h.6M256.1 222.1h.6M285.2 212.1h.6M280.1 217.4h.6M267.9 217.3h.6M266.9 233.9h.6M254.0 228.7h.6M264.8 233.0h.6M311.9 202.1h.6M305.7 203.2h.6M257.5 222.7h.6M272.2 217.9h.6M255.1 222.8h.6M256.9 223.1h.6M250.3 224.7h.6M304.9 207.9h.6M277.4 217.7h.6M260.6 221.1h.6M276.7 214.8h.6M298.8 204.2h.6M257.8 237.1h.6M270.0 237.1h.6M275.2 221.0h.6M267.0 230.3h.6M256.6 225.4h.6M279.4 217.2h.6M270.8 223.2h.6M258.7 232.6h.6M279.0 234.2h.6M260.7 227.9h.6M304.8 198.6h.6M280.6 212.2h.6M276.2 212.9h.6M252.4 223.9h.6M260.6 225.6h.6M258.9 225.7h.6M266.7 221.5h.6M252.0 224.5h.6M296.5 210.7h.6M257.6 229.2h.6M292.7 215.0h.6M266.4 217.6h.6M281.9 211.2h.6M270.4 220.4h.6M315.9 199.8h.6M255.8 223.7h.6M288.4 212.6h.6M265.4 220.1h.6M259.3 228.6h.6M276.7 216.0h.6M289.4 210.0h.6M259.9 224.2h.6M268.6 217.0h.6M254.4 223.1h.6M257.6 236.9h.6M262.2 224.8h.6M250.7 224.9h.6M276.2 213.2h.6M253.4 225.2h.6M263.7 220.0h.6M255.2 230.3h.6M253.9 225.2h.6M265.4 234.8h.6M272.7 214.9h.6M256.4 232.9h.6M281.1 210.1h.6M255.2 222.2h.6M284.3 213.8h.6M257.1 220.8h.6M251.2 227.8h.6M304.4 199.3h.6M250.5 227.3h.6M258.3 223.3h.6M269.5 234.1h.6M251.9 225.0h.6M297.3 208.8h.6M302.3 203.5h.6M277.3 224.5h.6M273.3 224.1h.6M261.4 220.6h.6M312.2 200.4h.6M277.6 213.7h.6M251.2 224.4h.6M263.1 220.5h.6M252.1 226.4h.6M271.5 226.3h.6M292.1 208.6h.6M256.4 236.5h.6M251.8 229.5h.6M258.5 234.4h.6M263.5 220.9h.6M274.1 213.9h.6M308.8 220.0h.6M254.0 229.8h.6M279.5 212.4h.6M258.1 227.5h.6M258.9 222.7h.6M266.9 230.2h.6M284.0 210.1h.6M296.1 226.0h.6M262.2 231.0h.6M278.1 218.8h.6M284.5 210.1h.6M316.5 214.4h.6M275.9 224.2h.6M290.5 206.7h.6M276.5 211.9h.6M251.4 224.3h.6M275.5 226.8h.6M271.4 219.1h.6M284.7 217.1h.6M277.6 218.0h.6M278.0 217.4h.6M313.2 204.4h.6M254.4 223.0h.6M290.6 210.1h.6M257.9 226.7h.6M268.7 223.0h.6M295.5 203.2h.6M260.5 226.1h.6M279.6 212.0h.6M308.6 211.8h.6M267.8 222.1h.6M252.1 223.2h.6M266.8 217.7h.6M255.0 227.6h.6M277.8 214.9h.6M286.6 218.4h.6M261.8 226.7h.6M301.1 202.2h.6M267.1 217.6h.6M306.8 209.0h.6M261.9 229.4h.6M270.5 218.9h.6M305.4 207.6h.6M269.4 215.5h.6M254.1 226.7h.6M272.3 221.5h.6M267.3 220.6h.6M250.2 225.9h.6M255.9 237.4h.6M266.4 217.6h.6M277.9 219.4h.6M271.5 216.0h.6M303.8 201.1h.6M265.1 223.6h.6M278.2 211.1h.6M255.2 228.3h.6M264.3 218.5h.6M280.4 211.0h.6M286.0 212.3h.6M275.1 212.8h.6M264.3 229.4h.6M276.4 214.9h.6M252.1 225.4h.6M253.1 223.6h.6M262.4 225.2h.6M276.1 219.2h.6M268.8 217.6h.6M310.9 209.7h.6M253.1 223.3h.6M252.7 224.4h.6M287.3 207.5h.6M287.7 209.7h.6M278.6 217.2h.6M252.3 226.9h.6M294.9 217.9h.6M264.9 225.5h.6M256.6 231.4h.6M286.9 210.8h.6M295.0 216.7h.6M268.5 217.5h.6M265.9 221.1h.6M263.3 221.8h.6M290.1 206.9h.6M289.0 224.0h.6" stroke="#a0a0b0" stroke-width="0.5" fill="none" opacity="0.5"/>
<path d="M249.8 181.2 L253 180.6 L275 181.2 L300 182.4 L320 183.1 L320 194.6 L304.6 196.9 L293.8 200 L284.6 204.6 L278.5 210 L270.8 213.8 L260 217.7 L252 221.4 L250 223.4 L249.6 215 Z" fill="#1010f2" filter="url(#b05)"/>
<ellipse cx="292" cy="188.6" rx="27" ry="4.2" fill="#0a58ff" filter="url(#b15)" opacity="1"/>
<ellipse cx="266" cy="199.5" rx="16" ry="12" fill="#0a64ff" filter="url(#b2)" opacity="1"/>
<ellipse cx="286" cy="197.6" rx="14" ry="3" fill="#10a8ff" filter="url(#b15)" opacity="1" transform="rotate(-7 286 197.6)"/>
<ellipse cx="262" cy="190" rx="11" ry="4" fill="#10ccff" filter="url(#b15)" opacity="1"/>
<ellipse cx="265" cy="202" rx="12" ry="7.2" fill="#10ccff" filter="url(#b1)" opacity="1" transform="rotate(-8 265 202)"/>
<ellipse cx="265.5" cy="202" rx="9.6" ry="5.5" fill="#38f038" filter="url(#b1)" opacity="1" transform="rotate(-8 265.5 202)"/>
<ellipse cx="266" cy="202" rx="6.2" ry="3.3" fill="#f4f000" filter="url(#b05)" opacity="1" transform="rotate(-8 266 202)"/>
<ellipse cx="266.5" cy="202" rx="3.8" ry="1.9" fill="#ff8a00" filter="url(#b05)" opacity="1" transform="rotate(-8 266.5 202)"/>
<ellipse cx="266.8" cy="202" rx="2.3" ry="1.1" fill="#f01400" filter="url(#b05)" opacity="1" transform="rotate(-8 266.8 202)"/>
<ellipse cx="265" cy="202" rx="12.4" ry="7.7" fill="none" stroke="#b48cc0" stroke-width="0.7" transform="rotate(-8 265 202)"/>
</g>
<rect x="241.20" y="170.70" width="77.60" height="71.50" fill="none" stroke="#858585" stroke-width="0.8" />
<text x="308.3" y="239.4" font-size="7.2" text-anchor="middle" font-weight="normal" fill="#1c1c1c" stroke="#1c1c1c" stroke-width="0.08">67%</text>
<text x="237.2" y="203.7" font-size="6.3" text-anchor="middle" font-weight="normal" fill="#111" transform="rotate(-90 237.2 203.7)" >SSC-A</text>
<text x="276.7" y="251.8" font-size="6.3" text-anchor="middle" font-weight="normal" fill="#111" >FSC-A</text>
</g>
<g>
<path d="M348.6 234.9 L374.6 219.4 L374.8 231.2 L352 236.8 Z" fill="#1010f2" filter="url(#b05)"/>
<path d="M350 234.4 L371.5 222.5 L372 226.5 Z" fill="#10ccff" filter="url(#b05)"/>
<path d="M352 233.4 L367 225.4 L367.5 227.3 Z" fill="#38f038" filter="url(#b05)"/>
<path d="M347.1 235.4 L386.6 197.2 L386.6 221.7 L347.9 239 Z" fill="none" stroke="#cc34c8" stroke-width="1.0"/>
<rect x="338.00" y="169.70" width="78.30" height="72.50" fill="none" stroke="#858585" stroke-width="0.8" />
<text x="405.5" y="239.4" font-size="7.2" text-anchor="middle" font-weight="normal" fill="#1c1c1c" stroke="#1c1c1c" stroke-width="0.08">99%</text>
<text x="334.5" y="203.5" font-size="6.3" text-anchor="middle" font-weight="normal" fill="#111" transform="rotate(-90 334.5 203.5)" >FSC-H</text>
<text x="375.4" y="251.8" font-size="6.3" text-anchor="middle" font-weight="normal" fill="#111" >FSC-A</text>
</g>
<g>
<clipPath id="c3"><rect x="435.2" y="169.8" width="76.9" height="71.5"/></clipPath>
<g clip-path="url(#c3)">
<ellipse cx="485.5" cy="222" rx="6" ry="19" fill="#2020f4" filter="url(#b15)" opacity="0.9"/>
<path d="M489.4 202.3h.6M483.8 232.9h.6M484.6 235.9h.6M489.1 218.1h.6M485.8 222.1h.6M483.5 210.2h.6M483.4 234.0h.6M493.2 207.2h.6M485.8 212.5h.6M494.8 232.5h.6M489.1 228.4h.6M487.3 230.4h.6M487.5 204.7h.6M484.2 200.9h.6M483.2 204.7h.6M491.0 232.8h.6M491.4 222.0h.6M488.1 240.5h.6M487.6 239.6h.6M488.4 226.7h.6M485.9 228.3h.6M494.2 220.5h.6M483.7 203.6h.6M485.7 227.6h.6M494.8 219.3h.6M488.5 218.4h.6M487.4 224.0h.6M484.1 206.8h.6M488.5 235.1h.6M487.7 237.4h.6M487.7 240.6h.6M483.9 209.6h.6M485.5 199.6h.6M484.8 213.0h.6M485.3 233.0h.6M485.3 200.8h.6M488.6 211.7h.6M487.8 237.9h.6M484.4 201.0h.6M485.4 227.3h.6M486.1 208.8h.6M486.4 225.8h.6M496.8 225.4h.6M492.2 220.9h.6M491.0 219.9h.6M488.5 220.9h.6M484.2 199.2h.6M490.7 207.9h.6M491.1 223.8h.6M491.1 228.3h.6M485.1 220.9h.6M484.5 210.0h.6M486.2 214.1h.6M489.8 230.2h.6M488.3 239.7h.6M491.3 236.3h.6M484.7 233.3h.6M486.5 213.9h.6M485.0 238.0h.6M487.7 213.5h.6M483.2 219.2h.6M487.1 209.5h.6M488.9 212.9h.6M489.2 236.3h.6M493.0 210.2h.6M494.1 226.8h.6M492.1 202.3h.6M483.2 230.8h.6M485.7 207.0h.6M483.9 238.1h.6M487.1 205.8h.6M493.0 222.1h.6M490.2 213.3h.6M492.1 220.5h.6M489.5 207.4h.6M486.3 228.9h.6M496.3 229.8h.6M488.3 231.5h.6M484.1 228.1h.6M492.6 228.5h.6M485.7 234.6h.6M488.5 226.7h.6M489.5 226.6h.6M484.0 200.4h.6M491.1 216.6h.6M486.9 212.3h.6M486.1 236.6h.6M485.0 220.9h.6M486.0 232.2h.6M491.8 224.9h.6M489.4 236.8h.6M486.1 231.1h.6M483.1 241.3h.6M486.8 224.4h.6M492.2 229.9h.6M488.9 209.8h.6M484.1 237.7h.6M492.9 231.9h.6M489.1 202.1h.6M489.1 227.4h.6M490.4 232.8h.6M486.9 236.9h.6M485.6 205.2h.6M487.0 216.8h.6M491.3 239.5h.6M486.5 226.9h.6M484.3 204.6h.6M483.7 203.9h.6M484.4 227.8h.6M489.7 214.8h.6M487.4 201.0h.6M490.9 239.8h.6M487.0 203.8h.6M495.1 229.0h.6M489.7 223.0h.6M484.1 216.9h.6M489.7 231.0h.6M487.9 230.3h.6M484.1 225.2h.6M487.5 207.2h.6M489.9 199.9h.6M492.2 202.9h.6M492.2 234.7h.6M486.0 218.0h.6M494.9 226.5h.6M485.6 205.3h.6M492.5 228.2h.6M484.4 223.1h.6M483.2 239.8h.6M496.0 217.7h.6M486.5 202.2h.6M483.7 206.4h.6M492.3 222.9h.6M493.9 237.1h.6M488.0 223.0h.6M484.7 234.2h.6M487.2 216.9h.6M487.8 240.8h.6M494.0 239.6h.6M496.7 223.0h.6M485.0 231.4h.6M490.8 225.5h.6M486.5 218.5h.6M484.1 206.7h.6M485.8 217.5h.6M485.6 224.8h.6M485.0 238.3h.6M492.8 229.4h.6M490.3 199.5h.6M483.6 221.2h.6M489.4 234.9h.6M483.2 232.8h.6M483.1 199.6h.6M488.0 220.1h.6M483.2 206.1h.6M486.4 232.6h.6M484.2 209.1h.6M483.6 235.0h.6M489.7 240.4h.6M483.7 209.3h.6M486.5 223.4h.6M483.6 238.4h.6M485.5 219.1h.6M487.7 209.8h.6M483.7 225.7h.6M495.0 221.5h.6M484.4 227.4h.6M490.7 204.9h.6M485.5 217.3h.6M491.6 223.6h.6M484.7 238.2h.6M485.8 238.2h.6M492.0 224.8h.6M497.5 224.3h.6M493.2 218.2h.6M488.5 222.8h.6M484.1 225.3h.6M497.3 233.7h.6M490.1 214.2h.6M485.2 236.6h.6M484.2 199.3h.6M487.7 232.0h.6M494.1 212.6h.6M483.4 234.9h.6M489.4 210.7h.6M486.9 221.5h.6M483.7 225.8h.6M485.4 228.5h.6M483.8 204.5h.6M484.0 222.6h.6M484.2 199.2h.6M491.5 239.9h.6M492.3 220.6h.6M487.3 234.7h.6M492.9 237.9h.6M486.8 233.9h.6M493.9 240.1h.6M488.9 215.6h.6M483.5 221.9h.6M485.4 229.5h.6M492.0 215.2h.6M490.1 237.4h.6M490.9 234.6h.6M484.3 211.2h.6M485.3 240.6h.6M486.3 230.0h.6M489.8 223.3h.6M484.2 240.7h.6M484.6 209.5h.6M483.4 226.6h.6M488.5 223.0h.6M483.5 221.0h.6M485.1 226.9h.6M485.0 231.3h.6M491.1 208.8h.6M490.3 220.1h.6M485.6 208.8h.6M484.6 210.5h.6M484.7 211.0h.6M489.0 239.3h.6M486.2 204.5h.6M486.6 211.1h.6M489.7 236.6h.6M486.4 212.2h.6M483.6 217.4h.6M485.6 240.5h.6M494.2 236.6h.6M492.3 206.1h.6M486.9 201.9h.6M484.7 199.1h.6M488.9 241.4h.6M487.2 233.5h.6M487.7 214.5h.6M490.4 217.8h.6M483.2 229.8h.6M496.5 216.0h.6M485.6 233.1h.6M483.4 234.2h.6M493.9 239.5h.6M483.6 221.4h.6M483.5 199.0h.6M488.7 199.7h.6M498.2 232.3h.6M486.8 202.9h.6M490.2 231.4h.6M494.7 220.0h.6M487.8 219.6h.6M483.6 232.0h.6M489.3 227.6h.6M496.4 232.1h.6M492.8 213.9h.6M484.5 222.2h.6M484.1 201.7h.6M493.7 231.0h.6M493.1 236.3h.6M492.3 208.2h.6M489.6 219.8h.6M483.6 240.7h.6M485.3 215.2h.6M493.6 211.8h.6M487.4 214.7h.6M493.0 241.4h.6M483.4 199.2h.6M493.0 234.3h.6M484.6 215.4h.6M491.7 234.4h.6M490.2 216.8h.6M486.9 235.0h.6M489.0 241.0h.6M492.3 211.7h.6M486.7 236.1h.6M487.9 209.7h.6M483.0 226.3h.6M485.9 199.2h.6M486.5 223.4h.6M489.0 210.2h.6M484.6 214.3h.6M483.0 200.3h.6M489.8 222.4h.6M486.5 237.6h.6M491.1 240.2h.6M495.8 237.1h.6M491.4 199.4h.6M490.8 234.3h.6M487.8 234.9h.6M483.0 203.5h.6M484.9 221.5h.6M485.7 214.9h.6M488.1 214.0h.6M484.2 223.6h.6M484.7 204.7h.6M484.3 238.3h.6M485.2 205.8h.6M485.8 214.0h.6M484.0 237.7h.6M489.0 220.7h.6M490.0 220.1h.6M486.1 216.2h.6M488.1 240.0h.6M489.5 207.9h.6M485.9 232.6h.6M488.7 223.6h.6M483.8 203.9h.6M486.9 227.8h.6M492.3 208.8h.6M490.0 236.1h.6M496.0 215.7h.6M485.3 239.4h.6M490.4 215.8h.6M486.3 219.7h.6M487.9 228.4h.6M486.5 230.6h.6M493.6 209.7h.6M488.0 214.4h.6M487.0 228.1h.6M484.9 240.7h.6M490.0 212.7h.6M489.5 233.8h.6M487.0 233.8h.6M491.8 223.8h.6M483.3 233.5h.6M490.4 222.6h.6M494.6 230.4h.6M485.0 213.2h.6M484.2 226.0h.6M486.7 206.4h.6M483.7 218.4h.6M491.6 209.8h.6M483.7 201.4h.6M486.4 218.7h.6M485.5 230.2h.6M484.2 240.0h.6M485.4 226.6h.6M484.6 237.6h.6M487.4 220.7h.6M489.1 215.1h.6M487.6 205.0h.6M483.9 212.1h.6M493.6 217.4h.6M484.7 214.5h.6M489.9 240.3h.6M485.3 201.0h.6M494.0 224.3h.6M488.6 234.5h.6M491.9 239.1h.6M483.9 215.0h.6M484.4 200.0h.6M493.1 231.4h.6M485.2 222.1h.6M484.5 235.0h.6M494.4 217.2h.6M483.3 217.1h.6M492.5 212.8h.6M494.3 227.2h.6M490.6 233.5h.6M493.1 233.9h.6M486.4 226.3h.6M488.2 219.7h.6M485.2 239.0h.6M491.7 223.2h.6M490.0 236.6h.6M485.0 208.4h.6M483.6 204.0h.6M487.0 234.0h.6M488.7 230.8h.6M487.6 202.4h.6M486.4 227.0h.6M484.0 231.0h.6M490.8 241.4h.6M496.2 240.7h.6M495.9 238.9h.6M485.2 202.6h.6M484.9 206.1h.6M489.4 205.0h.6M492.2 208.1h.6M489.6 203.6h.6M485.9 225.7h.6M486.7 225.2h.6M496.2 225.3h.6M484.9 213.2h.6M490.5 220.8h.6M485.6 199.1h.6M487.2 211.4h.6M489.5 201.2h.6M488.6 207.4h.6M494.6 220.5h.6M484.5 241.4h.6M486.6 227.6h.6M484.0 237.2h.6M490.9 224.3h.6M486.4 230.4h.6M488.8 228.5h.6M486.7 225.2h.6M493.6 218.6h.6M484.7 234.7h.6M488.0 231.1h.6M486.5 216.7h.6M484.0 223.0h.6M493.8 239.3h.6M487.7 210.3h.6M494.8 212.3h.6M492.3 214.8h.6M493.8 216.7h.6M489.6 208.2h.6M485.6 211.4h.6M486.4 223.2h.6M492.9 222.2h.6M490.6 202.6h.6M487.1 235.1h.6M483.5 224.3h.6M489.6 234.3h.6M495.5 240.0h.6M494.8 210.8h.6M483.9 221.3h.6M495.0 227.5h.6M491.6 216.3h.6M492.2 217.8h.6M489.2 236.2h.6M485.0 216.2h.6M490.4 224.5h.6M483.6 199.5h.6M491.5 209.9h.6M490.9 216.7h.6M484.4 220.4h.6M489.4 217.2h.6M485.4 213.8h.6M483.1 208.8h.6M489.2 206.8h.6M485.4 201.8h.6M490.4 222.2h.6M488.0 225.6h.6M484.0 207.5h.6M485.2 224.4h.6M487.8 228.3h.6M487.0 237.8h.6M488.9 237.5h.6M491.9 232.5h.6M487.0 228.5h.6M487.8 206.9h.6M484.8 237.8h.6M483.4 219.8h.6M483.1 236.5h.6M490.8 221.7h.6M490.1 221.7h.6M483.1 236.0h.6M487.9 215.2h.6M485.7 211.3h.6M487.9 202.4h.6M491.5 203.5h.6M484.3 219.8h.6M489.5 203.3h.6M486.8 214.1h.6M486.8 236.7h.6M485.6 214.2h.6M483.3 217.5h.6M484.3 226.5h.6M484.5 203.8h.6M486.4 221.5h.6M487.3 222.5h.6M491.9 228.4h.6M496.2 213.2h.6M492.3 214.6h.6M493.5 206.5h.6M484.9 214.6h.6M498.4 223.1h.6M498.4 228.5h.6M488.1 223.1h.6M491.4 226.2h.6M493.2 211.9h.6M489.1 241.2h.6M484.0 227.9h.6M485.3 239.6h.6M489.5 227.5h.6M485.1 236.8h.6M483.0 224.3h.6M483.5 216.0h.6M484.4 224.8h.6M494.7 216.5h.6M490.4 200.3h.6M484.5 199.0h.6M488.9 219.1h.6M484.8 208.4h.6M483.4 233.3h.6M484.7 230.7h.6M483.5 223.9h.6M484.5 225.9h.6M494.6 221.7h.6M488.9 220.1h.6M487.0 234.5h.6M483.4 220.5h.6M486.7 221.7h.6M493.9 206.1h.6M484.2 221.3h.6M497.4 230.8h.6M495.2 206.8h.6M490.8 228.7h.6M490.5 239.3h.6M493.9 205.4h.6M485.3 213.1h.6M485.2 224.1h.6M485.8 217.7h.6M484.8 228.2h.6M492.7 222.3h.6M488.4 233.8h.6M486.9 211.4h.6M490.4 228.9h.6M488.6 218.3h.6M489.2 215.0h.6M494.3 237.1h.6M486.6 217.6h.6M491.1 215.5h.6M483.4 209.6h.6M484.3 234.3h.6M488.6 229.8h.6M489.6 209.5h.6M487.3 239.0h.6M483.9 217.7h.6M484.3 222.3h.6M493.6 210.1h.6M483.8 201.8h.6M483.0 206.9h.6M489.1 237.1h.6M488.7 208.7h.6M487.7 216.8h.6M487.2 218.1h.6M487.1 212.0h.6M486.8 225.7h.6M488.1 234.3h.6M484.3 228.6h.6M492.0 205.3h.6M483.5 231.7h.6M484.1 219.4h.6M486.3 229.5h.6M484.5 235.9h.6M496.6 216.3h.6M485.9 217.4h.6M493.9 241.1h.6M485.7 220.8h.6M492.2 216.9h.6M483.3 241.0h.6M486.0 223.0h.6M484.2 209.3h.6M483.3 211.0h.6M494.1 231.9h.6M487.6 209.4h.6M490.2 222.6h.6M484.2 208.8h.6M485.4 216.1h.6M484.0 224.1h.6M489.6 224.9h.6M483.9 204.9h.6M493.3 222.3h.6M485.4 230.1h.6M487.2 215.1h.6M483.7 208.3h.6M493.5 237.7h.6M492.9 209.4h.6M486.2 230.1h.6M487.1 225.0h.6M484.3 219.3h.6" stroke="#2626f2" stroke-width="0.65" fill="none" opacity="0.9"/>
<path d="M435 205.2 Q436 203.6 445 203.4 L458 202.8 L470 200.4 L478 198.8 L482.4 199.2 L484 215 L484 241.7 L435 241.7 Z" fill="#1010f2" filter="url(#b05)"/>
<ellipse cx="438.6" cy="212" rx="2" ry="8" fill="#0a58ff" filter="url(#b1)" opacity="1"/>
<ellipse cx="452" cy="212" rx="12.5" ry="4.2" fill="#0aa0ff" filter="url(#b15)" opacity="1" transform="rotate(22 452 212)"/>
<ellipse cx="465.5" cy="212.5" rx="14" ry="8.6" fill="#10ccff" filter="url(#b15)" opacity="1"/>
<ellipse cx="467.8" cy="212.4" rx="10.5" ry="7" fill="#38f038" filter="url(#b1)" opacity="1"/>
<ellipse cx="470" cy="212" rx="6.4" ry="4.4" fill="#f4f000" filter="url(#b1)" opacity="1"/>
<ellipse cx="471" cy="211.8" rx="4.4" ry="3" fill="#ff8a00" filter="url(#b05)" opacity="1"/>
<ellipse cx="471.4" cy="211.7" rx="3.3" ry="2.1" fill="#f01400" filter="url(#b05)" opacity="1"/>
<ellipse cx="459" cy="233.4" rx="22.5" ry="7.4" fill="#10ccff" filter="url(#b1)" opacity="1"/>
<path d="M445 233.6 L470 228.2 Q476.5 233.5 470 239 Z" fill="#38f038" filter="url(#b1)"/>
<ellipse cx="464" cy="233.5" rx="10" ry="4.4" fill="#38f038" filter="url(#b1)" opacity="1"/>
<ellipse cx="466.8" cy="233.3" rx="6.5" ry="2.8" fill="#b4f024" filter="url(#b1)" opacity="1"/>
<ellipse cx="441" cy="233.8" rx="4.4" ry="7.2" fill="#10ccff" filter="url(#b05)" opacity="1"/>
<ellipse cx="441" cy="233.8" rx="3.4" ry="6.2" fill="#38f038" filter="url(#b05)" opacity="1"/>
<ellipse cx="440.8" cy="233.8" rx="2.2" ry="4.8" fill="#f4f000" filter="url(#b05)" opacity="1"/>
<ellipse cx="440.8" cy="234" rx="1.3" ry="3.3" fill="#f01400" filter="url(#b05)" opacity="1"/>
</g>
<rect x="435.00" y="191.00" width="46.20" height="32.70" fill="none" stroke="#cc34c8" stroke-width="1.0" />
<rect x="434.80" y="169.40" width="77.70" height="72.30" fill="none" stroke="#858585" stroke-width="0.8" />
<text x="444.7" y="188.7" font-size="7.2" text-anchor="middle" font-weight="normal" fill="#1c1c1c" stroke="#1c1c1c" stroke-width="0.08">55%</text>
<text x="431.2" y="204.8" font-size="6.3" text-anchor="middle" font-weight="normal" fill="#111" transform="rotate(-90 431.2 204.8)" >CD3</text>
<text x="473.2" y="252" font-size="6.3" text-anchor="middle" font-weight="normal" fill="#111" >Aqua Blue</text>
</g>
<g>
<clipPath id="c4"><rect x="241.6" y="265.4" width="76.8" height="72.3"/></clipPath>
<g clip-path="url(#c4)">
<path d="M242 283.4 L288.4 283 L288.4 337 L242 337 Z" fill="#1010f2" filter="url(#b05)"/>
<path d="M270.3 317.1h.6M276.6 300.6h.6M286.8 302.7h.6M279.7 296.1h.6M277.4 317.4h.6M284.8 315.7h.6M286.5 298.7h.6M270.9 295.8h.6M281.7 307.8h.6M276.6 312.7h.6M274.0 309.6h.6M277.5 296.0h.6M284.0 297.3h.6M284.4 314.1h.6M277.9 305.1h.6M273.7 296.0h.6M282.5 302.8h.6M280.1 302.7h.6M274.8 296.7h.6M283.7 304.6h.6M272.7 317.3h.6M272.8 298.6h.6M272.8 308.2h.6M284.0 292.9h.6M286.6 312.4h.6M285.0 304.2h.6M277.9 294.7h.6M274.7 317.3h.6M275.1 318.1h.6M285.0 318.7h.6M272.5 304.3h.6M285.0 301.0h.6M274.4 292.6h.6M279.6 308.0h.6M273.8 299.5h.6M281.4 297.0h.6M284.1 317.3h.6M277.6 295.8h.6M280.3 300.6h.6M271.9 312.6h.6M280.1 299.9h.6M274.4 313.0h.6M286.5 302.2h.6M280.5 298.4h.6M278.4 308.8h.6M275.5 309.5h.6M279.8 293.3h.6M272.1 304.0h.6M272.7 307.8h.6M280.7 310.1h.6M285.9 309.6h.6M283.9 295.3h.6M285.7 319.0h.6M280.6 316.0h.6M279.9 304.6h.6M272.9 305.9h.6M282.8 315.0h.6M286.1 307.0h.6M287.0 302.8h.6M270.3 304.4h.6M279.7 314.4h.6M274.2 292.7h.6M283.0 297.5h.6M285.3 308.4h.6M272.4 307.1h.6M283.9 298.5h.6M287.2 293.6h.6M272.7 309.2h.6M282.2 309.5h.6M286.6 297.8h.6M270.8 307.6h.6M276.3 303.5h.6M277.1 317.6h.6M275.1 312.1h.6M280.2 300.2h.6M286.4 299.4h.6M275.4 297.6h.6M282.6 312.1h.6M276.6 295.4h.6M280.7 301.8h.6M279.9 311.0h.6M270.0 293.3h.6M284.7 317.2h.6M271.6 298.5h.6M277.7 316.2h.6M275.6 319.7h.6M271.6 318.3h.6M271.0 309.5h.6M287.5 312.9h.6M286.4 302.2h.6M287.2 318.2h.6M274.9 314.4h.6M286.5 298.2h.6M277.0 314.3h.6M280.3 318.6h.6M277.8 305.0h.6M273.0 300.0h.6M285.7 299.6h.6M286.1 315.3h.6M280.3 300.8h.6M270.0 295.4h.6M284.9 319.8h.6M287.3 300.1h.6M286.9 304.8h.6M276.6 318.4h.6M284.8 311.7h.6M275.1 295.1h.6M273.3 299.6h.6M273.5 308.6h.6M275.7 298.2h.6M285.8 302.7h.6M270.1 292.3h.6M279.9 292.9h.6M280.0 292.7h.6M278.4 309.9h.6M279.7 298.3h.6M285.1 320.2h.6M284.6 319.0h.6M287.5 302.7h.6M279.8 304.0h.6M284.2 296.9h.6M274.1 305.1h.6M279.8 320.7h.6M276.0 292.1h.6M277.0 317.4h.6M271.7 307.0h.6M280.8 316.3h.6M275.9 309.6h.6M287.1 320.2h.6M280.2 301.8h.6M281.7 313.2h.6M282.2 311.6h.6M276.9 312.8h.6M276.3 298.7h.6M271.8 308.0h.6M273.1 300.2h.6M275.4 302.8h.6M277.5 320.3h.6M279.5 307.9h.6M277.2 307.9h.6M284.7 307.2h.6M279.2 302.2h.6M273.3 298.2h.6M271.6 300.3h.6M270.7 304.1h.6M280.3 295.3h.6M283.6 305.1h.6M281.2 304.5h.6M284.3 311.7h.6M272.2 307.9h.6M274.8 313.7h.6M276.7 298.5h.6M270.6 320.6h.6M272.1 299.3h.6M286.8 293.5h.6M277.4 304.6h.6M282.2 314.7h.6M287.5 301.2h.6M271.5 298.2h.6M270.1 299.8h.6M281.2 317.9h.6M271.8 299.8h.6M286.0 309.0h.6M277.2 294.1h.6M271.0 298.3h.6M281.1 293.7h.6M279.0 315.7h.6M270.0 300.3h.6M277.4 309.7h.6M283.2 311.7h.6M277.8 301.8h.6M281.3 305.3h.6M286.7 307.3h.6M280.5 311.3h.6M278.7 306.3h.6M281.9 309.4h.6M288.0 300.9h.6M278.9 320.3h.6M284.7 308.1h.6M275.5 297.2h.6M277.5 304.4h.6M277.8 299.4h.6M278.7 308.6h.6M271.8 311.1h.6M282.8 297.7h.6M274.5 293.1h.6M278.5 311.6h.6M277.4 309.1h.6M280.9 293.3h.6M271.0 306.7h.6M286.6 312.5h.6M278.0 299.5h.6M272.4 310.7h.6M283.8 303.4h.6M271.5 300.0h.6M282.7 314.4h.6M277.2 317.7h.6M277.0 292.7h.6M273.7 317.8h.6M282.7 294.5h.6M275.2 303.4h.6M278.7 292.7h.6M286.6 307.4h.6M274.8 292.9h.6M280.3 319.1h.6M282.9 316.9h.6M285.7 311.3h.6M271.0 301.0h.6M280.5 304.1h.6M273.9 294.0h.6M285.6 311.3h.6M275.4 305.6h.6M285.7 296.2h.6M281.3 298.8h.6M286.3 315.2h.6M287.1 303.1h.6M279.1 301.3h.6M276.3 319.7h.6M287.5 320.8h.6M286.3 306.2h.6M281.9 318.3h.6M277.8 318.6h.6M284.4 300.2h.6M276.5 312.0h.6M273.0 299.4h.6M273.5 295.1h.6M286.3 320.9h.6M284.8 306.6h.6M283.4 311.9h.6M277.9 307.1h.6M272.3 299.0h.6M276.2 302.4h.6M281.9 299.0h.6M274.3 317.4h.6M284.1 319.0h.6M284.0 297.7h.6M278.8 316.2h.6M284.5 298.6h.6M278.7 309.1h.6M270.2 299.1h.6M283.3 311.3h.6M278.0 308.6h.6M279.5 302.0h.6M271.5 313.5h.6M283.9 304.6h.6M283.9 316.0h.6M282.4 315.4h.6M287.4 293.2h.6M287.0 305.1h.6M284.0 313.4h.6M271.8 309.0h.6M271.6 313.2h.6M276.1 302.9h.6M274.9 315.5h.6M281.5 300.7h.6M283.3 297.4h.6M284.4 309.5h.6M283.8 309.9h.6M287.7 312.2h.6M278.3 309.1h.6" stroke="#8a8afa" stroke-width="0.5" fill="none" opacity="0.85"/>
<ellipse cx="276.3" cy="288.8" rx="10.5" ry="3.4" fill="#0a98ff" filter="url(#b15)" opacity="1"/>
<ellipse cx="254" cy="306" rx="8.5" ry="24" fill="#10ccff" filter="url(#b2)" opacity="1"/>
<ellipse cx="254.5" cy="291" rx="13" ry="7" fill="#10ccff" filter="url(#b15)" opacity="1"/>
<ellipse cx="264.5" cy="326.6" rx="21" ry="5.2" fill="#10ccff" filter="url(#b15)" opacity="1"/>
<ellipse cx="253.8" cy="299.5" rx="5.2" ry="7" fill="#38f038" filter="url(#b15)" opacity="1"/>
<ellipse cx="255.2" cy="290" rx="10.4" ry="4.8" fill="#38f038" filter="url(#b1)" opacity="1"/>
<ellipse cx="255.6" cy="289.5" rx="8.2" ry="3.5" fill="#f4f000" filter="url(#b1)" opacity="1"/>
<ellipse cx="255.6" cy="289.3" rx="6.6" ry="2.6" fill="#ff8a00" filter="url(#b05)" opacity="1"/>
<ellipse cx="255.6" cy="289.2" rx="4.8" ry="1.7" fill="#f01400" filter="url(#b05)" opacity="1"/>
<ellipse cx="253.8" cy="326.6" rx="8.6" ry="3.8" fill="#38f038" filter="url(#b1)" opacity="1"/>
<ellipse cx="253.6" cy="326.7" rx="4.6" ry="2" fill="#f4f000" filter="url(#b1)" opacity="1"/>
<ellipse cx="279.6" cy="325.6" rx="5.6" ry="3.4" fill="#38f038" filter="url(#b1)" opacity="1"/>
<ellipse cx="280" cy="325.5" rx="2.4" ry="1.4" fill="#b4f024" filter="url(#b1)" opacity="1"/>
</g>
<rect x="241.30" y="282.10" width="47.50" height="55.40" fill="none" stroke="#cc34c8" stroke-width="1.0" />
<rect x="241.20" y="265.00" width="77.60" height="73.10" fill="none" stroke="#858585" stroke-width="0.8" />
<text x="251" y="277" font-size="7.2" text-anchor="middle" font-weight="normal" fill="#1c1c1c" stroke="#1c1c1c" stroke-width="0.08">99%</text>
<text x="236.2" y="299" font-size="6.3" text-anchor="middle" font-weight="normal" fill="#111" transform="rotate(-90 236.2 299)" >CD8</text>
<text x="277" y="345.6" font-size="6.3" text-anchor="middle" font-weight="normal" fill="#111" >CD45RO</text>
</g>
<g>
<clipPath id="c5"><path d="M354.2 283.2 Q350 285.5 349.2 290.3 L348.8 304.5 L348.8 325.7 Q349.4 331.5 351.3 334.2 Q353.5 336.6 357 337 L368.3 336.3 Q370.8 332 371.8 325.7 L374 304.5 L374.4 290.3 L374 281.8 Z"/></clipPath>
<path d="M354.2 283.2 Q350 285.5 349.2 290.3 L348.8 304.5 L348.8 325.7 Q349.4 331.5 351.3 334.2 Q353.5 336.6 357 337 L368.3 336.3 Q370.8 332 371.8 325.7 L374 304.5 L374.4 290.3 L374 281.8 Z" fill="#1010f2" filter="url(#b05)"/>
<g clip-path="url(#c5)">
<ellipse cx="361.8" cy="307" rx="3.8" ry="22" fill="#10ccff" filter="url(#b15)" opacity="1"/>
<ellipse cx="362" cy="298" rx="3.4" ry="6.5" fill="#38f038" filter="url(#b15)" opacity="1"/>
<ellipse cx="362.2" cy="289" rx="8.6" ry="8.6" fill="#10ccff" filter="url(#b1)" opacity="1"/>
<ellipse cx="362.2" cy="289" rx="6.191999999999999" ry="6.191999999999999" fill="#38f038" filter="url(#b1)" opacity="1"/>
<ellipse cx="362.2" cy="289" rx="3.956" ry="3.956" fill="#f4f000" filter="url(#b1)" opacity="1"/>
<ellipse cx="362.2" cy="289" rx="2.752" ry="2.752" fill="#ff8a00" filter="url(#b1)" opacity="1"/>
<ellipse cx="362.2" cy="289" rx="1.634" ry="1.634" fill="#f01400" filter="url(#b1)" opacity="1"/>
<ellipse cx="361.5" cy="326" rx="8.2" ry="8.2" fill="#10ccff" filter="url(#b1)" opacity="1"/>
<ellipse cx="361.5" cy="326" rx="5.739999999999999" ry="5.739999999999999" fill="#38f038" filter="url(#b1)" opacity="1"/>
<ellipse cx="361.5" cy="326" rx="3.4439999999999995" ry="3.4439999999999995" fill="#f4f000" filter="url(#b1)" opacity="1"/>
<ellipse cx="361.5" cy="326" rx="1.64" ry="1.64" fill="#ff8a00" filter="url(#b1)" opacity="1"/>
</g>
<rect x="345.40" y="269.40" width="34.20" height="29.70" fill="none" stroke="#cc34c8" stroke-width="1.0" />
<rect x="337.30" y="265.00" width="77.90" height="73.10" fill="none" stroke="#858585" stroke-width="0.8" />
<text x="389.7" y="278.2" font-size="7.2" text-anchor="middle" font-weight="normal" fill="#1c1c1c" stroke="#1c1c1c" stroke-width="0.08">46%</text>
<text x="333" y="299" font-size="6.3" text-anchor="middle" font-weight="normal" fill="#111" transform="rotate(-90 333 299)" >CD8</text>
<text x="374" y="345.6" font-size="6.3" text-anchor="middle" font-weight="normal" fill="#111" >FSC-A</text>
</g>
<g>
<clipPath id="c6"><rect x="435.2" y="265.9" width="76.9" height="71.9"/></clipPath>
<g clip-path="url(#c6)">
<path d="M435.4 302.4 L440 300.6 L455 300.8 L464 302.6 L472 301.4 L479.5 302.4 L480.6 318 L479.6 337.8 L435.4 337.8 Z" fill="#1010f2" filter="url(#b05)"/>
<path d="M473.9 313.7h.6M478.8 331.8h.6M476.4 321.2h.6M476.8 326.1h.6M477.7 317.0h.6M462.9 330.5h.6M470.3 305.8h.6M480.9 313.4h.6M477.9 326.4h.6M467.2 326.9h.6M475.6 309.2h.6M480.6 319.8h.6M466.5 320.0h.6M478.8 324.3h.6M470.1 311.2h.6M476.5 314.6h.6M470.1 319.4h.6M470.1 317.7h.6M477.1 319.6h.6M466.7 309.2h.6M475.4 307.6h.6M465.6 324.5h.6M476.0 330.6h.6M470.0 306.7h.6M475.1 331.4h.6M473.3 326.9h.6M469.7 328.5h.6M471.2 323.1h.6M471.9 314.0h.6M473.0 327.9h.6M472.5 326.8h.6M473.9 327.6h.6M470.4 315.7h.6M478.6 333.4h.6M473.9 319.6h.6M477.4 322.1h.6M464.3 331.5h.6M476.4 310.0h.6M463.1 307.0h.6M472.8 319.3h.6M478.5 311.7h.6M470.1 319.8h.6M466.8 314.3h.6M466.0 333.7h.6M473.8 331.6h.6M465.3 336.4h.6M479.6 315.2h.6M475.5 305.1h.6M476.7 322.5h.6M478.6 332.4h.6M469.2 334.9h.6M478.8 307.0h.6M471.3 306.4h.6M478.5 311.6h.6M478.2 322.0h.6M468.4 336.1h.6M468.1 319.3h.6M479.0 317.1h.6M462.6 306.2h.6M475.3 308.8h.6M463.8 306.7h.6M474.2 326.3h.6M472.8 315.3h.6M464.3 325.2h.6M466.0 319.1h.6M475.5 330.5h.6M469.4 313.8h.6M468.8 324.3h.6M477.1 320.9h.6M471.4 304.2h.6M476.1 305.2h.6M466.3 336.7h.6M474.3 324.5h.6M472.6 329.5h.6M477.4 327.1h.6M470.6 321.3h.6M478.1 307.5h.6M467.6 309.5h.6M475.0 328.9h.6M473.8 333.7h.6M469.9 311.4h.6M470.3 335.3h.6M467.7 335.2h.6M471.0 316.7h.6M465.1 328.5h.6M478.9 306.5h.6M478.8 323.7h.6M476.4 318.1h.6M479.9 328.4h.6M471.0 327.2h.6M467.4 321.9h.6M464.0 312.6h.6M475.5 308.7h.6M464.8 321.0h.6M476.5 306.5h.6M467.7 337.3h.6M480.9 321.4h.6M465.8 320.6h.6M473.7 337.3h.6M481.0 308.5h.6M474.6 334.0h.6M471.7 331.6h.6M469.8 332.8h.6M472.3 304.5h.6M470.7 312.1h.6M464.9 332.6h.6M470.9 337.8h.6M469.2 309.1h.6M467.8 325.0h.6M464.1 321.8h.6M472.5 307.7h.6M472.6 306.9h.6M479.7 324.1h.6M475.3 306.8h.6M462.2 322.0h.6M467.9 308.1h.6M465.0 326.9h.6M471.4 323.8h.6M479.2 327.3h.6M476.8 308.8h.6M465.9 320.5h.6M477.4 315.1h.6M471.5 335.1h.6M475.0 330.0h.6M478.9 308.8h.6M476.9 323.7h.6M478.3 315.3h.6M475.8 307.8h.6M467.8 317.6h.6M475.3 325.0h.6M480.8 328.0h.6M474.9 326.0h.6M477.7 325.6h.6M462.5 328.4h.6M470.1 311.2h.6M479.7 329.7h.6M466.2 311.1h.6M467.3 334.2h.6M466.1 318.1h.6M480.5 304.8h.6M470.0 305.3h.6M480.3 334.9h.6M477.3 323.3h.6M477.0 324.5h.6M465.8 334.5h.6M471.3 332.8h.6M470.2 323.6h.6M467.1 332.8h.6M481.3 314.2h.6M480.7 334.1h.6M479.6 325.6h.6M466.0 321.6h.6M467.0 332.6h.6M478.1 310.7h.6M467.8 329.7h.6M476.2 312.8h.6M468.9 326.8h.6M481.7 325.5h.6M477.6 306.0h.6M470.0 310.8h.6M475.9 315.9h.6M475.6 306.0h.6M463.0 309.9h.6M467.6 337.5h.6M478.8 329.0h.6M474.7 308.8h.6M463.8 312.7h.6M468.7 313.5h.6M462.7 330.8h.6M468.5 305.0h.6M479.0 330.0h.6M480.7 324.3h.6M462.6 311.3h.6M462.3 310.6h.6M474.2 308.7h.6M471.5 330.6h.6M478.7 315.3h.6M469.1 325.3h.6M477.2 313.6h.6M477.2 332.2h.6M465.6 311.2h.6M476.2 328.4h.6M466.9 320.9h.6M469.4 324.4h.6M478.7 311.2h.6M476.4 311.5h.6M470.4 305.6h.6M475.7 332.0h.6M480.1 326.6h.6M479.6 324.2h.6M465.4 312.0h.6M464.3 317.3h.6M473.8 332.2h.6M474.4 310.7h.6M466.6 310.9h.6M462.5 331.4h.6M480.0 316.7h.6M476.7 322.0h.6M465.2 307.9h.6M473.0 313.1h.6M472.5 313.0h.6M470.8 331.6h.6M473.3 331.6h.6M469.3 335.6h.6M471.5 332.6h.6M473.6 321.5h.6M469.4 308.5h.6M467.1 307.3h.6M473.7 331.1h.6M472.9 311.7h.6M470.8 317.8h.6M480.2 337.9h.6M470.9 332.1h.6M466.3 320.2h.6M467.4 330.3h.6M475.1 314.3h.6M478.4 330.3h.6M474.8 309.9h.6M479.5 330.7h.6M475.3 309.8h.6M479.8 304.6h.6M470.4 327.8h.6M480.2 335.6h.6M467.2 308.2h.6M464.2 336.7h.6M472.3 306.0h.6M467.1 330.2h.6M467.7 308.7h.6M468.0 323.4h.6M466.7 308.5h.6" stroke="#9090fa" stroke-width="0.5" fill="none" opacity="0.8"/>
<ellipse cx="448" cy="305.6" rx="11.5" ry="3" fill="#0a68ff" filter="url(#b1)" opacity="1"/>
<ellipse cx="452" cy="314" rx="10" ry="3" fill="#14a8ff" filter="url(#b15)" opacity="1"/>
<ellipse cx="474" cy="308.5" rx="2.6" ry="6.5" fill="#2a78ff" filter="url(#b1)" opacity="1" transform="rotate(32 474 308.5)"/>
<ellipse cx="448.8" cy="327.2" rx="13.2" ry="9.4" fill="#10ccff" filter="url(#b1)" opacity="1" transform="rotate(15 448.8 327.2)"/>
<ellipse cx="448.8" cy="327.3" rx="11.6" ry="7.9" fill="#38f038" filter="url(#b1)" opacity="1" transform="rotate(15 448.8 327.3)"/>
<ellipse cx="448.8" cy="327.4" rx="8.2" ry="5.2" fill="#f4f000" filter="url(#b1)" opacity="1" transform="rotate(15 448.8 327.4)"/>
<ellipse cx="448.8" cy="327.4" rx="6" ry="3.4" fill="#ff8a00" filter="url(#b05)" opacity="1" transform="rotate(15 448.8 327.4)"/>
<ellipse cx="448.8" cy="327.4" rx="3.9" ry="1.9" fill="#f01400" filter="url(#b05)" opacity="1" transform="rotate(15 448.8 327.4)"/>
</g>
<path d="M435.4 338.4 L435.4 318.4 L456.9 318.4 L471 295 L486.5 295 L486.5 338.4 Z" fill="none" stroke="#cc34c8" stroke-width="1.0" stroke-linejoin="round"/>
<path d="M435.4 318.4 L435.4 301 M436 308.4 L461.4 308.4" fill="none" stroke="#cc34c8" stroke-width="0.9" opacity="0.6"/>
<rect x="434.80" y="265.50" width="77.70" height="72.70" fill="none" stroke="#858585" stroke-width="0.8" />
<text x="447.5" y="295.3" font-size="7.2" text-anchor="middle" font-weight="normal" fill="#1c1c1c" stroke="#1c1c1c" stroke-width="0.08">2.4%</text>
<text x="497" y="335.2" font-size="7.2" text-anchor="middle" font-weight="normal" fill="#1c1c1c" stroke="#1c1c1c" stroke-width="0.08">90%</text>
<text x="430" y="297" font-size="6.3" text-anchor="middle" font-weight="normal" fill="#111" transform="rotate(-90 430 297)" >CD27</text>
<text x="474" y="346.2" font-size="6.3" text-anchor="middle" font-weight="normal" fill="#111" >CD45RO</text>
</g>
<g>
<text x="278.2" y="357.9" font-size="7.6" text-anchor="middle" font-weight="bold" fill="#111" >Naïve CD8</text>
<clipPath id="c7"><rect x="241.6" y="361.7" width="77" height="71.8"/></clipPath>
<g clip-path="url(#c7)">
<ellipse cx="250.5" cy="426.5" rx="8.5" ry="6.6" fill="#6a94f4" filter="url(#b1)" opacity="0.8"/>
<path d="M247.1 423.2h.6M253.4 425.0h.6M252.5 430.9h.6M255.7 422.6h.6M245.3 423.6h.6M246.3 429.3h.6M260.1 422.4h.6M249.5 426.2h.6M255.0 430.4h.6M249.9 427.2h.6M248.3 424.0h.6M248.4 426.8h.6M254.4 422.2h.6M254.5 420.2h.6M255.5 430.7h.6M258.0 420.3h.6M253.7 424.2h.6M252.7 430.8h.6M246.5 425.7h.6M245.0 424.2h.6M253.6 431.9h.6M244.7 429.6h.6M247.3 418.6h.6M256.3 427.2h.6M253.2 428.0h.6M253.9 423.3h.6M252.7 425.5h.6M250.8 424.0h.6M255.1 430.6h.6M252.3 431.1h.6M247.5 425.7h.6M250.5 431.1h.6M252.7 428.4h.6M247.1 430.8h.6M256.2 422.4h.6M249.2 429.9h.6M254.7 421.1h.6M247.3 427.7h.6M249.4 428.1h.6M247.0 423.5h.6M252.6 427.9h.6M245.9 430.4h.6M252.8 426.9h.6M251.2 430.0h.6M251.9 426.4h.6M250.6 431.8h.6M258.0 416.3h.6M247.0 417.4h.6M247.5 425.1h.6M246.3 428.5h.6M251.3 428.0h.6M244.0 425.8h.6M253.1 420.9h.6M242.3 426.6h.6M249.8 429.0h.6M257.1 428.8h.6M249.1 426.7h.6M253.0 427.2h.6M253.7 424.1h.6M252.2 425.0h.6M247.6 426.1h.6M255.3 427.1h.6M251.8 426.8h.6M250.7 425.9h.6M249.2 418.6h.6M251.7 424.1h.6M247.9 423.2h.6M253.3 426.0h.6M251.9 427.7h.6M252.6 427.4h.6M254.5 430.7h.6M254.3 427.9h.6M255.7 424.9h.6M245.4 426.1h.6M242.5 424.0h.6M251.5 432.1h.6M252.4 424.4h.6M253.3 428.6h.6M252.0 429.8h.6M247.2 430.7h.6M243.2 426.5h.6M253.8 428.6h.6M248.3 419.2h.6M244.2 422.6h.6M248.1 431.8h.6M247.3 426.7h.6M251.9 418.9h.6M248.0 429.2h.6M249.6 429.5h.6M249.8 427.8h.6M250.2 423.9h.6M254.7 429.6h.6M243.1 429.4h.6M247.9 427.0h.6M256.0 431.3h.6M247.9 428.2h.6M248.3 418.0h.6M250.0 420.4h.6M247.0 428.0h.6M245.8 424.3h.6M243.9 422.2h.6M252.6 429.4h.6M250.1 424.3h.6M245.3 428.2h.6M247.8 423.6h.6M251.2 428.5h.6M243.7 428.3h.6M250.6 429.7h.6M255.3 427.1h.6M246.3 430.9h.6M253.4 423.5h.6M247.3 426.0h.6M254.7 427.3h.6M258.9 422.1h.6M255.4 423.9h.6M249.5 425.5h.6M257.2 432.0h.6M242.7 428.2h.6M253.4 428.5h.6M252.2 421.9h.6M255.3 430.9h.6M247.4 428.8h.6M254.0 428.4h.6M253.4 422.5h.6M248.0 427.9h.6M253.8 430.8h.6M246.6 423.8h.6M248.1 424.5h.6M257.9 432.0h.6M251.1 431.7h.6M248.7 427.5h.6M250.9 427.0h.6M247.6 421.6h.6M253.6 425.1h.6M247.1 423.0h.6M251.4 423.5h.6M241.9 423.1h.6M257.4 427.0h.6M252.7 421.5h.6M259.8 425.6h.6M244.7 426.7h.6M246.2 427.1h.6M249.0 427.9h.6M250.6 425.1h.6M253.4 429.1h.6M246.6 429.1h.6M246.2 424.1h.6M253.5 430.5h.6M246.8 428.1h.6M249.6 419.8h.6M253.6 427.3h.6M251.9 426.9h.6M252.4 426.1h.6M243.2 427.7h.6M250.4 424.5h.6M242.7 427.2h.6M252.2 433.2h.6M249.5 428.7h.6M251.7 425.2h.6M248.1 424.5h.6M251.5 430.2h.6M253.4 419.4h.6M248.1 430.1h.6M250.6 430.8h.6M253.1 428.2h.6M254.1 431.9h.6M249.2 424.0h.6M245.0 428.2h.6M257.2 428.1h.6M250.1 428.4h.6M246.9 428.2h.6M256.9 427.9h.6M248.3 428.0h.6M255.6 427.8h.6M255.7 427.4h.6M250.4 424.2h.6M251.9 429.0h.6M255.8 430.5h.6M248.8 421.0h.6M247.9 432.8h.6M253.0 431.0h.6M247.4 428.1h.6M248.8 427.0h.6M248.3 427.8h.6M252.2 424.0h.6M254.1 421.6h.6M253.1 423.3h.6M252.9 426.5h.6M251.0 426.3h.6M257.9 428.3h.6M243.8 422.9h.6M252.2 427.6h.6M253.7 431.6h.6M250.4 422.6h.6M253.7 423.3h.6M250.7 423.0h.6M252.9 432.9h.6M244.7 425.5h.6M255.4 428.1h.6M261.7 429.4h.6M254.5 430.7h.6M250.9 425.9h.6M250.7 429.1h.6M254.9 423.3h.6M251.1 429.7h.6M251.9 425.5h.6M252.3 424.3h.6M248.6 420.6h.6M249.1 430.9h.6M251.0 421.3h.6M243.1 423.8h.6M242.3 425.1h.6M247.7 429.0h.6M243.4 417.9h.6M253.5 423.5h.6M255.0 427.2h.6M247.8 425.8h.6M253.1 427.3h.6M255.3 432.9h.6M257.8 419.0h.6M250.1 425.9h.6M255.6 426.6h.6M256.6 425.2h.6M244.7 423.7h.6M248.5 427.2h.6M250.2 429.3h.6M249.0 426.7h.6M261.5 421.7h.6M252.1 423.3h.6M245.4 432.4h.6M243.7 423.3h.6M259.4 424.2h.6M256.9 429.5h.6M256.0 422.7h.6M246.6 428.3h.6M250.0 426.4h.6M243.8 430.7h.6M263.3 430.9h.6M254.3 424.6h.6M249.9 431.0h.6M248.1 424.3h.6M248.1 428.4h.6M253.9 429.0h.6M251.2 422.7h.6M250.6 426.6h.6M248.0 427.8h.6M255.9 425.2h.6M246.8 427.0h.6M252.8 424.1h.6M253.9 427.3h.6M247.2 423.1h.6M256.9 426.8h.6M248.7 425.2h.6M253.9 424.0h.6M251.3 428.3h.6M246.0 431.3h.6M256.8 431.7h.6M262.4 427.6h.6M246.0 426.3h.6M246.7 430.7h.6M252.6 430.2h.6M252.8 429.5h.6M245.7 426.2h.6M253.7 422.3h.6M248.5 428.4h.6M248.9 422.5h.6M251.6 424.8h.6M252.6 423.0h.6M254.3 427.7h.6M254.3 417.6h.6M248.7 423.0h.6M251.0 431.0h.6M251.7 425.4h.6M252.4 421.3h.6M251.5 422.8h.6M256.5 425.6h.6M249.3 430.9h.6M252.2 422.7h.6M246.9 427.0h.6M254.7 425.7h.6M246.0 423.8h.6M249.9 423.5h.6M246.7 432.9h.6M250.6 430.2h.6M248.0 423.6h.6M251.2 425.4h.6M245.9 425.7h.6M252.6 421.8h.6M246.0 426.8h.6M247.9 428.0h.6M256.8 431.9h.6M257.5 431.3h.6M247.6 426.1h.6M256.4 426.9h.6M246.3 423.5h.6M245.5 432.0h.6M246.2 424.2h.6M245.5 430.5h.6M246.5 425.3h.6M246.8 430.3h.6M254.2 428.2h.6M262.5 428.0h.6M260.1 425.3h.6M253.1 423.5h.6M248.6 431.8h.6M250.2 429.1h.6M252.8 429.9h.6M254.0 423.2h.6M249.8 424.6h.6M246.1 428.9h.6M244.2 426.1h.6M259.1 429.2h.6M252.5 419.4h.6M248.5 428.2h.6M250.4 427.1h.6M249.9 424.5h.6M242.7 420.5h.6M256.9 427.0h.6M245.1 426.1h.6M253.2 430.7h.6M253.1 424.1h.6M250.0 425.0h.6M250.1 424.7h.6M257.0 429.2h.6M255.1 431.7h.6M257.6 428.6h.6M244.7 425.3h.6M255.7 426.1h.6M249.3 427.7h.6M252.2 421.3h.6M259.3 427.3h.6M246.5 426.7h.6M249.9 422.9h.6M255.2 419.6h.6M245.6 429.5h.6M254.3 430.4h.6M246.9 423.8h.6M246.6 426.1h.6M251.0 427.0h.6M253.4 427.6h.6M251.3 426.9h.6M242.3 428.4h.6M259.2 421.0h.6M256.7 426.7h.6M254.4 423.8h.6M250.0 426.2h.6M257.9 429.2h.6M247.0 421.5h.6M251.7 419.4h.6M244.9 417.7h.6M245.7 422.4h.6M251.2 429.8h.6M251.2 425.9h.6M250.6 424.7h.6M251.3 425.6h.6M260.0 428.1h.6M249.4 422.8h.6M247.7 429.5h.6M251.8 422.6h.6M249.5 425.2h.6M249.8 422.5h.6M246.4 428.3h.6M246.6 423.1h.6M246.8 426.5h.6M245.4 425.5h.6M246.2 420.7h.6M248.0 422.1h.6M247.3 423.9h.6M253.3 424.2h.6M246.4 423.0h.6M252.1 425.2h.6M256.7 428.3h.6M248.4 423.7h.6M245.9 422.8h.6M245.4 426.1h.6M250.9 423.5h.6M254.7 420.5h.6M242.9 423.5h.6M244.9 422.5h.6M257.1 431.9h.6" stroke="#2a66ee" stroke-width="0.65" fill="none" opacity="0.9"/>
<ellipse cx="250.2" cy="426.9" rx="6.4" ry="5" fill="#2cb0d0" filter="url(#b1)" opacity="0.95"/>
<ellipse cx="250" cy="427" rx="4.4" ry="3.5" fill="#44d060" filter="url(#b1)" opacity="1"/>
</g>
<line x1="265.9" y1="361.3" x2="265.9" y2="434.2" stroke="#cc34c8" stroke-width="1.0" />
<line x1="241.2" y1="413.3" x2="319" y2="413.3" stroke="#cc34c8" stroke-width="1.0" />
<rect x="241.20" y="361.30" width="77.80" height="72.90" fill="none" stroke="#858585" stroke-width="0.8" />
<text x="252.8" y="369.3" font-size="6.8" text-anchor="middle" font-weight="normal" fill="#1c1c1c" stroke="#1c1c1c" stroke-width="0.08">0.08%</text>
<text x="306.2" y="369.3" font-size="6.8" text-anchor="middle" font-weight="normal" fill="#1c1c1c" stroke="#1c1c1c" stroke-width="0.08">0.00%</text>
<text x="306.2" y="431.7" font-size="6.8" text-anchor="middle" font-weight="normal" fill="#1c1c1c" stroke="#1c1c1c" stroke-width="0.08">0.00%</text>
<text x="236.6" y="396.8" font-size="6.1" text-anchor="middle" font-weight="normal" fill="#111" transform="rotate(-90 236.6 396.8)" >CMV Tetramer</text>
<text x="279.2" y="444.1" font-size="6.2" text-anchor="middle" font-weight="normal" fill="#111" >WT1 Tetramer</text>
</g>
<g>
<text x="375.4" y="357.9" font-size="7.6" text-anchor="middle" font-weight="bold" fill="#111" >Memory CD8</text>
<path d="M371.1 419.5h.6M359.6 422.8h.6M368.4 427.5h.6M359.1 431.2h.6M363.2 425.5h.6M364.7 431.1h.6M359.1 423.7h.6M366.3 425.6h.6M375.4 424.6h.6M372.8 426.7h.6M361.3 429.3h.6M366.4 430.4h.6M359.8 424.4h.6M359.4 421.7h.6M361.7 427.6h.6M362.9 428.3h.6M363.8 427.8h.6M370.9 431.0h.6M363.3 422.5h.6M363.8 425.2h.6M362.7 423.7h.6M365.7 425.3h.6M359.8 419.0h.6M359.1 429.2h.6M369.3 427.2h.6M371.7 430.0h.6M373.4 424.2h.6M362.3 427.0h.6M363.4 427.9h.6M364.1 429.8h.6M360.4 418.4h.6M367.3 426.9h.6M360.5 428.0h.6M364.2 426.5h.6M363.5 424.4h.6M381.0 418.7h.6M366.5 421.7h.6M360.3 423.2h.6M365.7 425.0h.6M373.2 429.2h.6M363.3 424.9h.6M361.1 431.7h.6M361.5 423.1h.6M363.3 427.8h.6M373.7 425.9h.6M359.2 426.4h.6M363.9 431.0h.6M364.0 432.9h.6M367.6 427.3h.6M364.5 428.7h.6M366.6 425.0h.6M361.2 424.3h.6M362.9 422.8h.6M362.3 430.4h.6M363.8 421.6h.6M375.8 431.6h.6M366.3 417.8h.6M359.8 422.2h.6M366.8 420.0h.6M361.5 415.8h.6M364.3 433.1h.6M359.9 427.7h.6M364.3 428.2h.6M361.6 416.5h.6M359.0 423.9h.6M376.7 425.8h.6M365.6 430.4h.6M362.1 420.1h.6M373.2 430.2h.6M364.6 426.2h.6M371.7 419.6h.6M369.2 430.1h.6M370.0 420.8h.6M361.2 429.6h.6M366.6 427.1h.6M373.0 427.2h.6M368.5 420.5h.6M359.7 427.9h.6M364.5 430.6h.6M361.8 423.2h.6M359.0 419.1h.6M363.7 426.8h.6M359.1 424.1h.6M361.1 428.3h.6M359.9 422.6h.6M369.6 426.5h.6M367.6 422.2h.6M361.3 423.6h.6M360.8 421.5h.6M379.6 420.1h.6M361.1 422.2h.6M359.4 424.5h.6M371.2 428.9h.6M363.7 430.6h.6M365.0 427.2h.6M368.2 422.2h.6M377.4 427.0h.6M362.3 423.9h.6M367.3 427.8h.6M366.7 425.9h.6M359.6 423.0h.6M368.5 429.2h.6M365.1 425.1h.6M374.6 430.9h.6M366.7 424.5h.6M361.6 429.8h.6M372.6 431.2h.6M373.9 431.9h.6M373.7 431.9h.6M362.8 418.4h.6M361.3 428.2h.6M361.6 431.5h.6M359.4 426.4h.6M364.7 433.0h.6M359.2 421.6h.6M360.0 429.6h.6M360.1 424.9h.6M371.8 429.6h.6M372.1 424.5h.6M362.5 427.1h.6M360.6 426.7h.6M372.3 425.8h.6M371.3 417.0h.6M372.9 427.1h.6M363.7 421.4h.6M361.3 424.2h.6M374.1 424.8h.6M366.1 421.2h.6M362.4 419.1h.6M362.0 430.5h.6M371.6 428.3h.6M371.8 428.1h.6M362.2 425.0h.6M373.5 416.4h.6M371.5 421.8h.6M361.6 420.8h.6M360.1 418.6h.6M368.5 421.5h.6M370.3 424.1h.6M359.9 415.0h.6M360.1 419.1h.6M378.9 430.1h.6M361.0 427.7h.6M371.7 423.0h.6M370.4 424.5h.6M360.2 421.6h.6M363.7 424.9h.6M370.5 422.7h.6M363.1 424.5h.6M367.4 433.2h.6M359.4 419.4h.6M363.2 430.2h.6M360.8 426.9h.6M368.5 416.9h.6M365.8 431.1h.6M364.2 430.4h.6M363.9 429.3h.6M366.2 428.1h.6M369.9 422.1h.6M365.8 423.4h.6M359.2 422.7h.6M366.3 421.1h.6M363.7 424.6h.6M363.3 421.5h.6M366.8 417.4h.6M364.6 422.0h.6M359.1 424.3h.6M369.2 421.4h.6M368.8 424.9h.6M366.5 425.7h.6M369.5 424.9h.6M363.1 418.2h.6M363.5 428.0h.6M368.6 425.1h.6M365.7 427.6h.6M363.9 418.7h.6M360.0 427.4h.6M359.4 427.8h.6M372.6 425.5h.6M362.3 432.7h.6M379.0 429.5h.6M371.4 416.3h.6M367.4 424.8h.6M362.6 426.0h.6M364.0 423.5h.6M367.6 418.7h.6M360.6 423.3h.6M360.3 428.7h.6M366.8 429.8h.6M364.5 427.0h.6M366.9 423.4h.6M372.1 427.2h.6M364.6 431.9h.6M361.2 427.7h.6M369.1 425.0h.6M362.1 423.7h.6M362.3 429.8h.6M368.3 426.8h.6M359.6 425.0h.6M363.4 425.9h.6M359.5 433.0h.6M360.6 425.7h.6M359.7 425.9h.6M361.0 421.3h.6M362.9 428.3h.6M372.7 430.6h.6M365.9 429.5h.6M368.1 427.3h.6M362.8 428.9h.6M359.4 418.0h.6M362.6 431.3h.6M359.1 430.5h.6M366.9 422.3h.6M368.7 418.1h.6M368.8 430.8h.6M363.9 425.7h.6M364.8 420.0h.6M366.2 423.7h.6M361.0 430.5h.6M359.4 426.8h.6M360.7 429.1h.6M366.9 433.0h.6M363.6 421.6h.6M362.6 420.8h.6M371.9 426.0h.6M364.6 419.3h.6M364.7 430.1h.6M365.8 424.1h.6M371.8 426.4h.6M362.1 431.5h.6" stroke="#4a5cf0" stroke-width="0.6" fill="none" opacity="0.8"/>
<clipPath id="c8"><rect x="338" y="361.7" width="76.8" height="71.8"/></clipPath>
<g clip-path="url(#c8)">
<path d="M336.1 422.0h.6M335.9 429.4h.6M349.1 437.5h.6M337.6 422.3h.6M357.0 421.2h.6M335.1 429.4h.6M335.3 427.8h.6M357.4 430.9h.6M337.1 435.0h.6M353.1 437.3h.6M342.6 437.1h.6M355.2 431.2h.6M333.6 423.6h.6M354.2 421.3h.6M337.2 431.5h.6M351.8 418.4h.6M348.2 438.2h.6M349.9 416.0h.6M338.1 419.2h.6M342.4 419.0h.6M335.8 432.7h.6M335.4 420.6h.6M358.0 425.4h.6M337.0 422.7h.6M359.3 425.3h.6M337.3 429.1h.6M353.9 417.4h.6M347.9 437.5h.6M340.0 435.1h.6M349.4 418.7h.6M332.5 428.3h.6M354.7 418.4h.6M358.6 429.7h.6M354.3 417.8h.6M336.1 429.4h.6M356.7 425.3h.6M354.3 436.1h.6M356.8 421.6h.6M345.0 417.9h.6M352.0 418.1h.6M339.8 418.9h.6M353.3 420.3h.6M339.1 418.4h.6M350.6 437.7h.6M359.9 426.7h.6M354.4 433.8h.6M356.1 429.4h.6M352.0 435.9h.6M355.4 436.7h.6M339.4 433.8h.6M356.2 426.9h.6M352.7 417.4h.6M335.9 419.5h.6M336.5 424.0h.6M347.1 437.3h.6M339.8 416.5h.6M340.8 419.3h.6M357.4 424.3h.6M352.5 416.0h.6M338.7 417.0h.6M351.0 417.2h.6M348.8 434.8h.6M332.9 431.0h.6M337.4 424.8h.6M336.7 429.8h.6M355.2 420.9h.6M338.7 420.8h.6M342.2 439.0h.6M357.8 430.4h.6M342.2 439.5h.6M349.0 434.8h.6M351.6 435.9h.6M354.3 436.6h.6M350.6 416.1h.6M344.5 439.4h.6M338.6 417.6h.6M353.6 417.4h.6M357.9 428.4h.6M352.5 417.4h.6M340.7 417.5h.6M353.0 439.4h.6M335.1 428.0h.6M355.1 430.9h.6M358.6 430.8h.6M358.0 419.0h.6M342.1 439.3h.6M350.2 438.1h.6M356.9 419.1h.6M348.0 417.6h.6M348.5 415.8h.6M344.5 417.6h.6M357.2 428.0h.6M356.3 426.3h.6M348.4 418.5h.6M335.9 421.3h.6M337.0 419.2h.6M345.8 438.2h.6M342.5 415.2h.6M346.8 417.2h.6M338.3 418.5h.6M335.5 421.4h.6M346.5 418.1h.6M340.0 437.5h.6M341.5 437.8h.6M335.1 421.4h.6M355.3 434.3h.6M345.0 416.4h.6M339.1 437.0h.6M357.2 428.9h.6M342.8 418.7h.6M339.7 416.3h.6M336.6 430.8h.6M341.7 435.3h.6M349.9 436.6h.6M355.9 430.0h.6M352.1 436.0h.6M334.7 425.5h.6M337.7 433.5h.6M345.3 414.2h.6M353.5 430.3h.6M339.2 421.9h.6M357.9 426.2h.6M340.5 437.7h.6M347.5 438.6h.6M333.9 427.1h.6M350.7 417.0h.6M347.5 416.7h.6M338.9 418.9h.6M353.7 418.7h.6M353.9 435.4h.6M350.0 415.7h.6M359.3 422.8h.6M352.0 419.3h.6M334.0 429.3h.6M353.8 435.9h.6M355.5 435.0h.6M358.1 430.9h.6M342.9 438.3h.6M335.6 426.6h.6M354.4 416.7h.6M335.0 424.2h.6M359.5 429.6h.6M354.3 432.8h.6M355.8 425.0h.6M348.8 437.0h.6M357.0 429.2h.6M350.2 435.3h.6M356.5 429.3h.6M340.2 435.8h.6M353.6 419.6h.6M342.8 417.1h.6M344.8 419.4h.6M336.4 428.6h.6M338.9 417.5h.6M342.6 438.0h.6M336.5 431.6h.6M342.2 417.1h.6M357.1 430.9h.6M359.5 429.1h.6M340.4 437.5h.6M339.6 433.5h.6M352.0 436.7h.6M353.9 431.2h.6M338.1 431.6h.6M349.5 437.1h.6M350.5 419.0h.6M355.7 424.2h.6M341.9 417.7h.6M344.8 437.0h.6M337.7 435.5h.6M344.6 436.3h.6M352.5 423.0h.6M340.0 418.6h.6M345.4 418.6h.6M331.3 429.0h.6M341.6 418.7h.6M351.9 437.8h.6M339.9 433.9h.6M353.2 437.3h.6M349.7 436.7h.6M353.9 420.6h.6M355.3 428.2h.6M346.7 415.4h.6M340.2 434.9h.6M357.7 427.5h.6M356.7 432.7h.6M351.4 439.9h.6M344.2 436.0h.6M339.9 419.0h.6M342.2 437.3h.6M349.5 416.5h.6M338.2 434.7h.6M333.9 427.7h.6M352.9 435.8h.6M350.7 437.9h.6M335.3 425.4h.6M354.7 418.9h.6M356.1 430.8h.6M357.6 431.3h.6M343.6 435.9h.6M345.6 438.8h.6M336.8 435.8h.6M336.6 430.5h.6M349.2 438.5h.6M346.8 435.1h.6M352.4 419.3h.6M358.8 429.1h.6M346.8 438.2h.6M352.0 416.7h.6M356.3 424.2h.6M341.9 439.6h.6M335.3 421.4h.6M332.0 425.9h.6M336.2 421.1h.6M336.5 427.8h.6M344.0 418.3h.6M342.7 437.9h.6M353.3 436.6h.6M333.5 419.4h.6M358.4 428.5h.6M333.1 426.3h.6M358.2 426.4h.6M350.2 417.2h.6M357.6 426.0h.6M340.4 432.4h.6M339.1 420.0h.6M344.4 418.6h.6M350.7 418.4h.6M335.1 419.8h.6M356.6 424.8h.6M354.8 417.6h.6M347.0 416.5h.6M352.3 435.7h.6M341.6 437.0h.6M340.3 418.2h.6M355.0 434.9h.6M334.3 423.6h.6M343.8 415.6h.6M355.9 432.6h.6M351.8 420.6h.6M344.2 418.1h.6M353.7 434.7h.6M334.6 430.8h.6M343.3 439.6h.6M349.7 435.3h.6M359.1 427.2h.6M354.2 419.7h.6M357.0 423.6h.6M339.3 420.2h.6M347.4 417.1h.6M357.2 433.7h.6M352.9 436.6h.6M343.3 417.8h.6M336.2 431.8h.6M355.2 432.3h.6M340.6 417.7h.6M334.2 429.9h.6M333.1 427.5h.6M337.0 431.0h.6M336.1 431.0h.6" stroke="#2a36f0" stroke-width="0.6" fill="none" opacity="0.85"/>
<ellipse cx="346.3" cy="427.4" rx="11.2" ry="10.6" fill="#1010f2" filter="url(#b05)" opacity="1"/>
<ellipse cx="346.1" cy="427.4" rx="7.3" ry="7.3" fill="#10ccff" filter="url(#b1)" opacity="1"/>
<ellipse cx="346.1" cy="427.4" rx="5.402" ry="5.402" fill="#38f038" filter="url(#b1)" opacity="1"/>
<ellipse cx="346.1" cy="427.4" rx="3.4309999999999996" ry="3.4309999999999996" fill="#f4f000" filter="url(#b1)" opacity="1"/>
<ellipse cx="346.1" cy="427.4" rx="2.4090000000000003" ry="2.4090000000000003" fill="#ff8a00" filter="url(#b1)" opacity="1"/>
<ellipse cx="346.1" cy="427.4" rx="1.533" ry="1.533" fill="#f01400" filter="url(#b1)" opacity="1"/>
</g>
<line x1="358.7" y1="361.3" x2="358.7" y2="434.2" stroke="#cc34c8" stroke-width="1.0" />
<line x1="337.6" y1="414.2" x2="415.2" y2="414.2" stroke="#cc34c8" stroke-width="1.0" />
<rect x="337.60" y="361.30" width="77.60" height="72.90" fill="none" stroke="#858585" stroke-width="0.8" />
<text x="348.2" y="369.3" font-size="6.8" text-anchor="middle" font-weight="normal" fill="#1c1c1c" stroke="#1c1c1c" stroke-width="0.08">0.02%</text>
<text x="402.9" y="369.3" font-size="6.8" text-anchor="middle" font-weight="normal" fill="#1c1c1c" stroke="#1c1c1c" stroke-width="0.08">0.00%</text>
<text x="402.9" y="432.1" font-size="6.8" text-anchor="middle" font-weight="normal" fill="#1c1c1c" stroke="#1c1c1c" stroke-width="0.08">0.56%</text>
<text x="333" y="398.6" font-size="6.0" text-anchor="middle" font-weight="normal" fill="#111" transform="rotate(-90 333 398.6)" >HIV Tetramer</text>
</g>
<g>
<text x="474.2" y="357.9" font-size="7.6" text-anchor="middle" font-weight="bold" fill="#111" >Memory CD8</text>
<path d="M442.5 404.4h.6M448.0 408.8h.6M441.9 407.2h.6M452.2 406.0h.6M441.3 405.0h.6M444.3 405.6h.6M441.2 407.4h.6M438.8 406.1h.6M439.3 405.5h.6M444.5 405.1h.6M443.3 401.0h.6M442.9 407.3h.6M446.4 404.1h.6M443.1 406.6h.6M448.1 406.2h.6M445.3 406.6h.6M451.5 406.5h.6M442.6 403.1h.6M442.1 407.4h.6M444.1 405.2h.6M443.1 407.6h.6M442.9 401.8h.6M450.4 406.4h.6M445.0 403.3h.6M444.1 404.1h.6M447.7 408.1h.6M442.5 407.9h.6M444.5 407.2h.6M440.7 407.3h.6M444.6 405.9h.6M446.7 403.9h.6M448.2 405.3h.6M442.6 408.4h.6M448.6 408.8h.6M439.4 407.3h.6M448.3 409.0h.6M445.9 406.4h.6M450.0 407.1h.6M440.4 404.5h.6M440.5 403.7h.6M441.5 404.9h.6M441.9 404.4h.6M444.0 408.7h.6M446.4 403.9h.6M444.6 407.5h.6M442.7 402.6h.6M442.6 408.8h.6M453.5 405.8h.6M436.4 403.7h.6M450.7 410.7h.6M439.3 406.2h.6M445.4 406.5h.6M444.3 405.2h.6M442.6 403.1h.6M444.3 405.4h.6M442.6 404.3h.6M446.9 405.4h.6M440.7 410.5h.6M447.4 407.5h.6M447.1 400.0h.6M449.3 404.3h.6M437.7 402.7h.6M447.0 407.3h.6M445.7 411.9h.6M439.1 406.9h.6M447.1 402.5h.6M446.3 403.8h.6M442.1 407.6h.6M441.1 406.2h.6M438.2 408.6h.6M443.1 401.7h.6M440.5 405.6h.6M444.6 407.0h.6M438.8 405.5h.6M437.5 407.1h.6M450.2 401.5h.6M437.3 400.6h.6M441.3 407.0h.6M444.3 401.9h.6M441.9 404.7h.6M444.5 406.3h.6M442.7 407.0h.6M442.0 404.5h.6M439.2 405.7h.6M446.6 405.7h.6M447.8 404.9h.6M447.8 405.2h.6M445.3 404.8h.6M441.1 408.0h.6M442.5 405.2h.6M449.0 407.5h.6M441.7 405.3h.6M440.6 407.7h.6M443.5 405.7h.6M443.7 402.0h.6M442.3 404.9h.6M447.0 403.4h.6M445.4 406.7h.6M447.6 405.2h.6M442.9 407.0h.6M441.8 403.7h.6M444.0 404.3h.6M440.5 403.2h.6M441.9 404.4h.6M443.5 408.2h.6M443.2 403.0h.6M449.4 404.2h.6M449.4 404.3h.6M444.4 403.6h.6M442.4 407.9h.6M453.4 408.2h.6M442.1 406.9h.6M438.9 405.1h.6M445.3 404.0h.6M442.5 405.6h.6M439.0 406.3h.6M449.4 408.4h.6M442.8 408.3h.6M442.9 408.4h.6M444.0 402.0h.6M449.7 398.9h.6M442.4 406.8h.6M446.5 406.3h.6M443.7 405.3h.6M442.7 406.0h.6M447.2 407.2h.6M442.4 409.5h.6M443.7 405.0h.6M441.8 410.2h.6M440.6 410.0h.6" stroke="#4a5cf0" stroke-width="0.6" fill="none" opacity="0.8"/>
<path d="M462.8 416.3h.6M460.6 430.1h.6M465.1 421.5h.6M462.7 423.6h.6M460.0 428.0h.6M469.6 431.1h.6M457.6 431.3h.6M458.4 431.5h.6M474.7 421.7h.6M465.8 423.6h.6M474.3 429.2h.6M457.4 425.9h.6M470.1 416.9h.6M468.5 423.2h.6M460.7 422.3h.6M457.9 428.4h.6M465.0 421.1h.6M459.5 427.4h.6M465.8 418.6h.6M460.1 423.1h.6M460.9 426.5h.6M457.2 426.9h.6M469.0 427.3h.6M462.9 420.1h.6M473.9 417.1h.6M463.6 425.9h.6M458.2 425.7h.6M462.3 428.1h.6M457.4 426.3h.6M459.3 422.0h.6M459.6 419.5h.6M463.1 426.4h.6M458.8 417.0h.6M459.4 419.3h.6M462.0 418.8h.6M466.3 423.0h.6M465.0 429.7h.6M471.2 428.1h.6M458.4 427.2h.6M467.0 422.7h.6M459.5 417.3h.6M457.9 423.7h.6M459.9 423.9h.6M463.3 422.4h.6M459.7 428.7h.6M466.3 427.0h.6M465.9 428.8h.6M462.2 426.7h.6M458.7 424.5h.6M457.0 423.3h.6M458.5 426.0h.6M481.4 429.6h.6M458.6 428.6h.6M457.9 418.5h.6M479.0 429.3h.6M460.7 419.8h.6M469.5 424.3h.6M457.4 418.6h.6M465.7 430.3h.6M458.9 419.9h.6M461.2 423.6h.6M467.3 425.1h.6M457.2 423.3h.6M461.1 425.9h.6M462.5 425.0h.6M462.2 420.0h.6M462.9 428.5h.6M474.1 424.5h.6M463.6 425.2h.6M463.5 418.2h.6M464.1 426.7h.6M476.3 427.7h.6M470.5 416.0h.6M460.4 427.4h.6M464.8 417.7h.6M476.4 422.7h.6M458.4 420.0h.6M465.0 425.9h.6M459.6 423.3h.6M466.1 426.0h.6M461.6 424.9h.6M460.4 420.9h.6M464.2 423.0h.6M466.5 429.4h.6M467.0 419.5h.6M463.5 415.9h.6M467.4 423.3h.6M461.8 424.6h.6M463.1 427.6h.6M468.3 424.7h.6M469.5 426.8h.6M467.4 418.6h.6M474.9 432.7h.6M459.4 433.6h.6M463.8 421.6h.6M459.0 425.6h.6M476.1 427.1h.6M461.2 420.3h.6M466.2 423.2h.6M462.2 426.3h.6M459.9 420.7h.6M460.0 424.2h.6M458.5 424.6h.6M457.3 425.9h.6M469.8 429.2h.6M464.3 426.3h.6M459.2 423.9h.6M471.8 425.6h.6M462.5 419.1h.6M460.6 424.1h.6M465.0 420.6h.6M469.3 422.8h.6M464.1 423.5h.6M463.1 421.0h.6M457.0 421.3h.6M463.9 428.5h.6M460.6 421.6h.6M457.7 427.2h.6M462.4 426.1h.6M459.6 431.5h.6M465.9 423.7h.6M474.4 421.8h.6M459.9 429.2h.6M461.4 424.8h.6M460.4 422.4h.6M458.3 426.1h.6M466.9 416.8h.6M472.5 422.8h.6M462.3 427.8h.6M458.9 424.8h.6M457.1 429.6h.6M461.7 422.2h.6M457.3 429.7h.6M466.9 433.6h.6M458.7 425.0h.6M464.3 419.1h.6M460.3 423.9h.6M460.4 418.4h.6M465.3 425.2h.6M460.8 429.4h.6M457.1 426.5h.6M466.4 425.1h.6M466.1 421.0h.6M464.9 424.0h.6M461.1 431.9h.6M463.0 421.2h.6M458.8 422.6h.6M461.4 421.4h.6M467.8 419.1h.6M462.5 418.6h.6M464.9 420.9h.6M460.9 426.3h.6M464.0 419.9h.6M457.5 423.0h.6M457.3 426.9h.6M457.7 426.4h.6M470.0 426.8h.6M458.4 429.8h.6M458.4 423.1h.6M465.1 425.4h.6M459.8 425.0h.6M466.5 416.4h.6M459.9 424.9h.6M465.1 416.3h.6M470.4 433.0h.6M463.4 417.9h.6M459.4 424.4h.6M476.1 422.9h.6M463.2 425.3h.6M459.3 427.2h.6M462.3 430.8h.6M458.7 429.6h.6M457.4 422.9h.6M463.6 423.8h.6M467.8 421.7h.6M458.0 430.0h.6M464.8 428.6h.6M464.0 416.0h.6M457.3 426.7h.6M467.2 419.9h.6M457.1 421.1h.6M457.1 422.8h.6M460.1 422.7h.6M457.9 422.1h.6M457.9 425.0h.6M458.4 426.1h.6M463.3 429.2h.6M459.0 429.5h.6M466.4 424.9h.6M471.6 420.2h.6M457.9 421.2h.6M460.1 424.3h.6M460.3 424.8h.6M462.6 427.6h.6M464.0 417.5h.6M460.4 416.6h.6M460.8 419.8h.6M462.9 426.4h.6M460.5 424.4h.6M465.8 415.7h.6M464.0 428.5h.6M461.2 423.5h.6M465.2 430.4h.6M459.4 423.7h.6M469.1 415.9h.6M468.4 423.8h.6M466.3 420.5h.6M475.1 427.6h.6M469.4 432.0h.6M461.0 423.4h.6M461.0 421.7h.6M464.8 424.4h.6M460.8 428.0h.6M458.2 420.6h.6M460.2 424.5h.6M464.0 417.4h.6M464.4 416.6h.6M462.4 415.5h.6M463.5 423.3h.6M470.5 429.6h.6M458.1 432.2h.6M467.0 430.9h.6M472.6 422.8h.6M460.8 423.4h.6M461.8 420.6h.6M463.5 420.1h.6M464.2 419.5h.6M469.2 432.0h.6M459.3 418.7h.6M461.2 418.5h.6M469.4 416.4h.6M460.6 428.1h.6M468.2 429.1h.6M462.7 420.7h.6M458.1 423.9h.6M461.6 428.7h.6M465.1 431.7h.6M459.6 424.4h.6M461.1 427.9h.6M460.6 427.9h.6" stroke="#4a5cf0" stroke-width="0.6" fill="none" opacity="0.8"/>
<clipPath id="c9"><rect x="435.2" y="361.8" width="76.9" height="72"/></clipPath>
<g clip-path="url(#c9)">
<path d="M441.4 415.1h.6M431.6 421.3h.6M438.5 416.8h.6M438.1 438.2h.6M445.2 417.1h.6M453.0 432.7h.6M438.5 415.3h.6M440.6 416.9h.6M450.9 418.8h.6M455.2 430.0h.6M431.3 427.2h.6M452.9 433.0h.6M438.0 436.9h.6M436.5 437.8h.6M456.9 429.6h.6M447.8 438.6h.6M454.0 423.8h.6M440.5 435.9h.6M434.7 433.2h.6M453.4 426.6h.6M431.1 426.7h.6M436.2 437.5h.6M452.8 428.0h.6M434.6 420.8h.6M435.9 432.5h.6M441.6 415.7h.6M448.0 438.8h.6M451.8 418.8h.6M446.3 417.8h.6M433.5 424.5h.6M445.5 417.2h.6M436.5 417.6h.6M434.6 433.5h.6M446.1 416.6h.6M452.1 416.5h.6M449.7 436.5h.6M442.5 436.9h.6M436.9 436.2h.6M436.9 433.2h.6M439.1 416.9h.6M451.0 419.6h.6M434.4 426.0h.6M446.1 435.9h.6M432.8 429.4h.6M435.3 433.9h.6M434.4 424.8h.6M450.2 417.4h.6M452.5 434.2h.6M453.0 432.1h.6M431.8 430.0h.6M450.2 437.7h.6M430.3 431.9h.6M447.8 441.0h.6M434.8 430.4h.6M451.0 434.3h.6M450.4 418.6h.6M433.2 432.0h.6M436.8 420.6h.6M439.0 438.8h.6M449.6 415.2h.6M453.6 431.0h.6M435.1 431.9h.6M448.4 437.0h.6M433.7 421.1h.6M433.5 432.8h.6M452.8 427.0h.6M437.5 415.5h.6M436.1 417.3h.6M443.3 417.2h.6M431.9 429.2h.6M452.8 427.3h.6M456.3 422.1h.6M454.7 432.2h.6M444.4 416.9h.6M450.5 417.8h.6M444.2 439.2h.6M434.0 423.5h.6M433.1 430.9h.6M433.8 426.4h.6M445.4 437.7h.6M443.1 438.6h.6M442.0 437.7h.6M450.1 435.6h.6M455.0 425.4h.6M451.3 419.3h.6M444.5 418.9h.6M435.0 425.3h.6M451.8 436.0h.6M432.8 429.7h.6M432.9 423.5h.6M454.0 431.7h.6M451.7 432.2h.6M446.7 414.2h.6M454.4 430.0h.6M445.7 437.5h.6M439.0 437.1h.6M446.1 439.1h.6M438.4 435.1h.6M442.6 417.3h.6M441.5 439.6h.6M439.5 437.6h.6M446.2 435.2h.6M433.2 419.8h.6M441.3 414.9h.6M440.3 416.4h.6M451.6 419.0h.6M455.0 426.4h.6M455.6 428.3h.6M452.9 423.1h.6M454.9 423.6h.6M437.4 418.9h.6M452.0 434.2h.6M440.2 437.9h.6M454.3 430.6h.6M444.5 438.0h.6M445.9 416.9h.6M452.8 417.7h.6M435.6 418.0h.6M444.3 435.3h.6M449.7 440.0h.6M439.0 436.9h.6M455.1 421.9h.6M451.9 418.6h.6M453.6 434.2h.6M445.3 417.1h.6M450.7 433.8h.6M433.3 423.3h.6M452.9 417.4h.6M451.2 418.1h.6M432.4 425.7h.6M431.3 432.9h.6M443.2 438.4h.6M448.1 419.4h.6M432.2 427.6h.6M433.1 423.7h.6M454.7 429.6h.6M445.8 416.9h.6M455.0 428.5h.6M454.6 427.1h.6M435.3 428.5h.6M441.7 437.6h.6M455.2 425.3h.6M441.8 438.3h.6M436.6 435.0h.6M453.3 421.2h.6M446.0 416.5h.6M450.9 429.4h.6M439.3 416.7h.6M434.8 432.6h.6M448.0 438.9h.6M449.2 418.2h.6M443.9 436.4h.6M438.5 435.3h.6M442.5 439.7h.6M433.4 433.6h.6M447.4 437.1h.6M452.9 435.7h.6M433.9 420.9h.6M436.1 436.2h.6M455.2 426.4h.6M449.9 418.9h.6M453.5 423.5h.6M434.6 417.7h.6M431.5 423.0h.6M437.8 419.3h.6M454.0 423.2h.6M455.7 427.7h.6M442.5 419.1h.6M455.9 425.2h.6M443.6 438.7h.6M457.1 428.9h.6M454.1 434.3h.6M432.8 431.3h.6M447.5 436.7h.6M448.6 419.5h.6M432.9 424.0h.6M442.8 418.7h.6M440.2 435.1h.6M444.2 437.0h.6M435.6 437.1h.6M452.7 434.5h.6M432.9 431.0h.6M453.3 419.7h.6M437.5 438.6h.6M434.7 421.8h.6M434.1 428.1h.6M447.5 435.5h.6M433.0 424.5h.6M446.5 438.7h.6M447.1 415.3h.6M449.0 436.4h.6M448.9 436.6h.6M453.5 419.1h.6M434.6 425.7h.6M449.1 437.1h.6M436.4 434.8h.6M440.0 437.6h.6M434.4 422.8h.6M453.7 431.7h.6M433.6 422.5h.6M455.3 424.7h.6M442.5 415.3h.6M445.4 416.8h.6M450.7 418.6h.6M442.3 437.7h.6M437.1 433.8h.6M448.8 437.8h.6M446.3 439.3h.6M452.6 434.7h.6M445.5 440.6h.6M445.7 438.3h.6M432.9 426.7h.6M433.2 424.1h.6M447.7 416.7h.6M441.9 414.6h.6M434.3 423.5h.6M437.7 416.6h.6M433.6 431.3h.6M444.1 418.5h.6M433.0 431.8h.6M440.5 438.3h.6M432.3 422.6h.6M451.2 436.3h.6M432.0 424.6h.6M456.9 432.3h.6M436.9 435.7h.6M437.1 432.5h.6M456.0 422.9h.6M439.0 435.7h.6M448.0 437.3h.6M437.5 418.7h.6M445.6 438.7h.6M433.7 435.2h.6M456.2 431.5h.6M433.7 435.4h.6M446.1 416.5h.6M437.7 436.3h.6M434.7 420.8h.6M456.2 427.2h.6M439.2 436.3h.6M454.2 426.5h.6M445.9 439.9h.6M439.9 416.6h.6M450.2 417.3h.6M432.1 429.0h.6M441.9 438.4h.6M455.6 430.3h.6M433.5 432.1h.6M453.7 433.5h.6M440.9 417.5h.6M447.5 417.8h.6M452.3 429.5h.6M456.4 431.3h.6M450.0 435.0h.6M454.6 431.8h.6M450.4 417.6h.6M435.6 431.8h.6M434.9 424.0h.6M439.1 437.1h.6M448.2 418.1h.6" stroke="#2a36f0" stroke-width="0.6" fill="none" opacity="0.85"/>
<ellipse cx="444" cy="427.4" rx="11.2" ry="10.6" fill="#1010f2" filter="url(#b05)" opacity="1"/>
<ellipse cx="443.7" cy="427.4" rx="7.3" ry="7.3" fill="#10ccff" filter="url(#b1)" opacity="1"/>
<ellipse cx="443.7" cy="427.4" rx="5.402" ry="5.402" fill="#38f038" filter="url(#b1)" opacity="1"/>
<ellipse cx="443.7" cy="427.4" rx="3.4309999999999996" ry="3.4309999999999996" fill="#f4f000" filter="url(#b1)" opacity="1"/>
<ellipse cx="443.7" cy="427.4" rx="2.4090000000000003" ry="2.4090000000000003" fill="#ff8a00" filter="url(#b1)" opacity="1"/>
<ellipse cx="443.7" cy="427.4" rx="1.533" ry="1.533" fill="#f01400" filter="url(#b1)" opacity="1"/>
</g>
<line x1="456.4" y1="361.4" x2="456.4" y2="434.1" stroke="#cc34c8" stroke-width="1.0" />
<line x1="434.8" y1="414.7" x2="512.5" y2="414.7" stroke="#cc34c8" stroke-width="1.0" />
<rect x="434.80" y="361.40" width="77.70" height="72.80" fill="none" stroke="#858585" stroke-width="0.8" />
<text x="445.1" y="369.3" font-size="6.8" text-anchor="middle" font-weight="normal" fill="#1c1c1c" stroke="#1c1c1c" stroke-width="0.08">0.22%</text>
<text x="500.8" y="369.3" font-size="6.8" text-anchor="middle" font-weight="normal" fill="#1c1c1c" stroke="#1c1c1c" stroke-width="0.08">0.02%</text>
<text x="500.8" y="432.7" font-size="6.8" text-anchor="middle" font-weight="normal" fill="#1c1c1c" stroke="#1c1c1c" stroke-width="0.08">0.53%</text>
<text x="431.2" y="397.9" font-size="6.1" text-anchor="middle" font-weight="normal" fill="#111" transform="rotate(-90 431.2 397.9)" >CMV Tetramer</text>
</g>
<line x1="304" y1="441.4" x2="500" y2="441.4" stroke="#222" stroke-width="1.0" />
<path d="M503 441.4 L498.3 439.3 L498.3 443.5 Z" fill="#222"/>
<line x1="484.9" y1="431.2" x2="414.5" y2="475.4" stroke="#222" stroke-width="1.0" />
<path d="M411.8 477.2 L416.9 476.4 L414.9 473.1 Z" fill="#222"/>
<g>
<path d="M304.2 547.2 L318.5 546.5 L330.8 545.6 L336.9 544.1 L341.5 545 L347.7 543.8 L353.8 542.2 L357.5 543 L360 543.2 L363 540.4 L366.2 534.2 L369.2 526.5 L372.2 511 L374.6 490.7 L377.7 470.4 L379.5 460.2 L380.7 470.4 L383.8 500.9 L386.4 521.2 L387.8 531.4 L389.4 535.6 L390.5 536 L392.3 532.1 L396 531.2 L398.5 534.2 L400.9 540.4 L404.6 544.4 L408.3 546.5 L420 547.2 Z" fill="#c9e0f5" stroke="#8cbde8" stroke-width="0.7" stroke-linejoin="round"/>
<rect x="303.90" y="456.20" width="150.70" height="90.50" fill="none" stroke="#666" stroke-width="0.8" />
<line x1="305.6" y1="526.4" x2="454.2" y2="526.4" stroke="#111" stroke-width="1.2" />
<line x1="305.9" y1="523.8" x2="305.9" y2="529" stroke="#111" stroke-width="1.7" />
<line x1="392.5" y1="523.8" x2="392.5" y2="529" stroke="#111" stroke-width="1.7" />
<line x1="453.9" y1="523.8" x2="453.9" y2="529" stroke="#111" stroke-width="1.7" />
<text x="340.8" y="522.3" font-size="7.5" text-anchor="middle" font-weight="normal" fill="#222" >89.5%</text>
<text x="425" y="522.3" font-size="7.5" text-anchor="middle" font-weight="normal" fill="#222" >10.5%</text>
<text x="297.3" y="496.5" font-size="8.5" text-anchor="middle" font-weight="normal" fill="#222" transform="rotate(-90 297.3 496.5)" ># Cells</text>
<text x="378.4" y="559.4" font-size="10.4" text-anchor="middle" font-weight="normal" fill="#222" >Vβ 3</text>
</g>
</g>
</svg></body></html>
